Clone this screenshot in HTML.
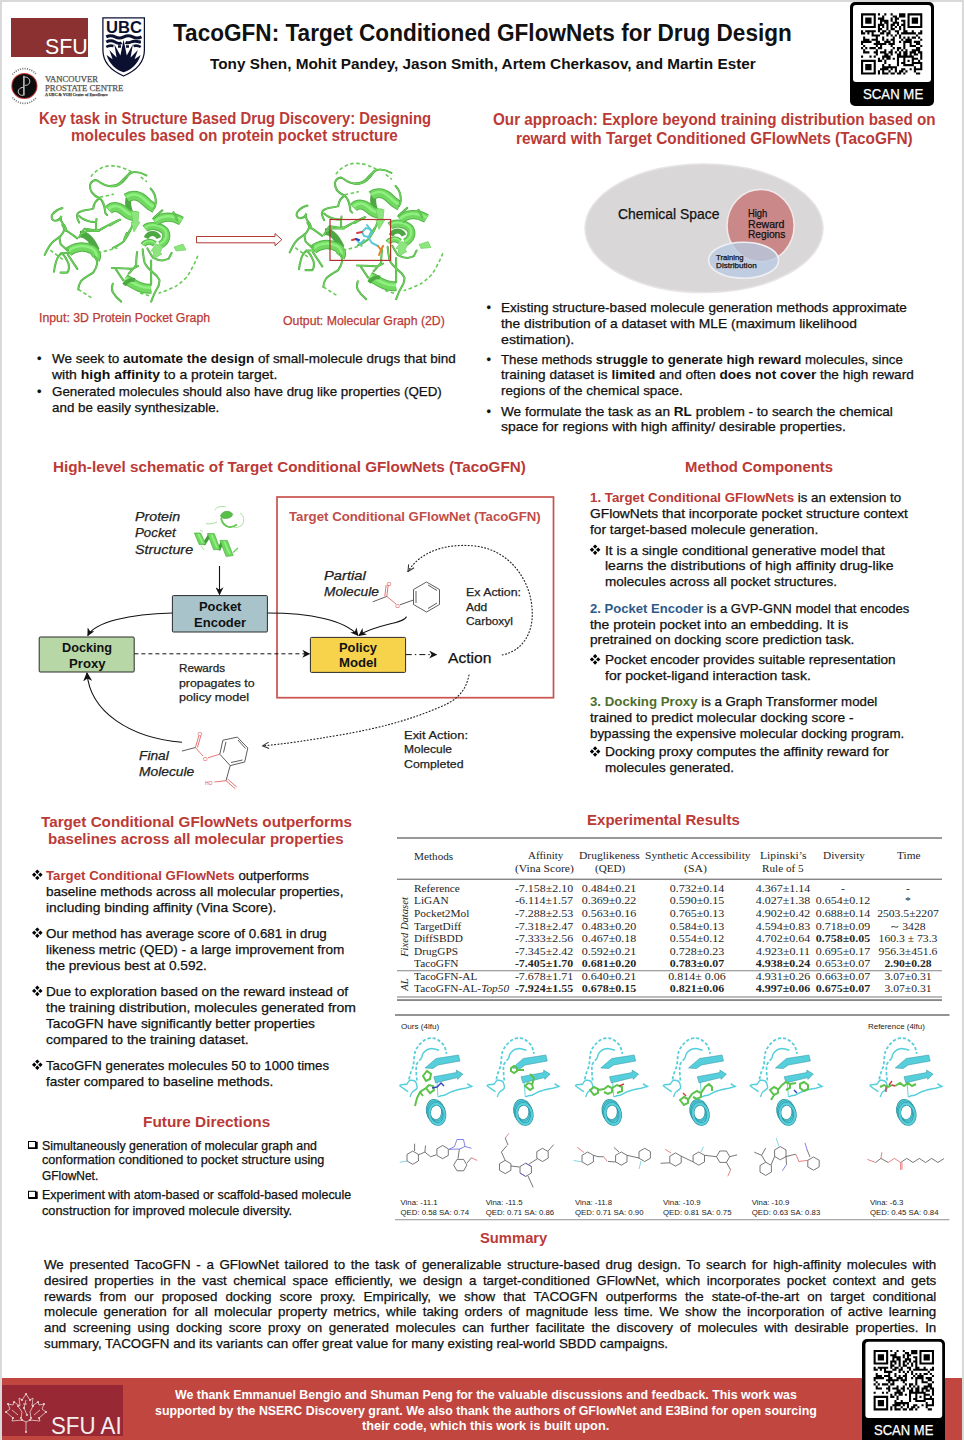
<!DOCTYPE html>
<html><head><meta charset="utf-8"><title>TacoGFN poster</title>
<style>
html,body{margin:0;padding:0;}
body{width:964px;height:1440px;position:relative;overflow:hidden;background:#fff;font-family:"Liberation Sans",sans-serif;color:#111;}
.L{position:absolute;white-space:nowrap;line-height:1;transform-origin:0 0;-webkit-text-stroke:0.25px currentColor;}
.L.j{text-align:justify;text-align-last:justify;white-space:normal;height:1em;overflow:visible;}
.r{color:#bb3a36;}
.L b{-webkit-text-stroke:0;}
.bl{color:#2e5a8a;}
.gr{color:#4c6e2c;}
.abs{position:absolute;}

</style></head><body>
<svg class="abs" style="left:0;top:0" width="964" height="1440" viewBox="0 0 964 1440">
<rect x="0" y="0" width="964" height="2" fill="#d9d9d9"/>
<rect x="0" y="0" width="2" height="1440" fill="#d9d9d9"/>
<rect x="962" y="0" width="2" height="1440" fill="#d9d9d9"/>
<rect x="2" y="1378" width="960" height="62" fill="#c0463f"/>
<rect x="2" y="1385" width="121" height="51" fill="#972834"/>
<rect x="11" y="18" width="77" height="39" fill="#8b3131"/>
<path d="M102.9,17.9 H144.4 V50 C144.4,63 134,71.5 123.6,76 C113.2,71.5 102.9,63 102.9,50 Z" fill="#fff" stroke="#0c1030" stroke-width="1.25"/>
<path d="M106.3,36.9 q4.4,-2.4 8.8,0 t8.8,0 t8.8,0 t8.8,0" fill="none" stroke="#0c1030" stroke-width="3"/>
<path d="M106.3,42 q4.4,-2.4 8.8,0 t6.4,0.6 M125.5,42.4 q2.4,1 5.6,-0.4 t8.8,0 l1,0" fill="none" stroke="#0c1030" stroke-width="3"/>
<path d="M106.3,47 q3,-2 7.2,-1 M118,46.5 l3,0 M126,46.5 l3,0 M133.5,46 q4,-1 7.2,1" fill="none" stroke="#0c1030" stroke-width="2.6"/>
<path d="M106.6,55 L112.6,59.3 L109.3,50 L116.6,57.5 L114.3,44.3 L120.4,55.6 L123.6,39.8 L126.8,55.6 L132.9,44.3 L130.6,57.5 L137.9,50 L134.6,59.3 L140.6,55 C138,64 131,70 123.6,72.3 C116.2,70 109.2,64 106.6,55 Z" fill="#0c1030"/>
<circle cx="24.4" cy="86" r="13.1" fill="#c43a3c"/>
<circle cx="24.4" cy="86" r="12.1" fill="#0d0d0d"/>
<path d="M23.9,75.8 V95.6" fill="none" stroke="#d8d8d8" stroke-width="1.4"/>
<path d="M24.3,77 C31.5,76.5 31.5,86 25,85.3" fill="none" stroke="#d8d8d8" stroke-width="0.9"/>
<path d="M23.5,87.5 C16.5,87 16.5,96.5 23.5,95.2" fill="none" stroke="#d8d8d8" stroke-width="0.9"/>
<path d="M12.5,74.5 A15,15 0 0 1 36.3,74.5" fill="none" stroke="#777" stroke-width="1.6" stroke-dasharray="1.1 1.2"/>
<path d="M12.5,97.5 A15,15 0 0 0 36.3,97.5" fill="none" stroke="#777" stroke-width="1.6" stroke-dasharray="1.1 1.2"/>
<rect x="850" y="2" width="84" height="104" rx="5" fill="#000"/>
<rect x="853" y="5" width="78" height="77" rx="3" fill="#fff"/>
<path d="M861.00,13.30h14.80v2.11h-14.80zM877.91,13.30h2.11v2.11h-2.11zM884.25,13.30h2.11v2.11h-2.11zM890.59,13.30h2.11v2.11h-2.11zM899.05,13.30h6.34v2.11h-6.34zM907.50,13.30h14.80v2.11h-14.80zM861.00,15.41h2.11v2.11h-2.11zM873.68,15.41h2.11v2.11h-2.11zM882.14,15.41h2.11v2.11h-2.11zM892.71,15.41h4.23v2.11h-4.23zM899.05,15.41h6.34v2.11h-6.34zM907.50,15.41h2.11v2.11h-2.11zM920.19,15.41h2.11v2.11h-2.11zM861.00,17.53h2.11v2.11h-2.11zM865.23,17.53h6.34v2.11h-6.34zM873.68,17.53h2.11v2.11h-2.11zM877.91,17.53h6.34v2.11h-6.34zM890.59,17.53h2.11v2.11h-2.11zM894.82,17.53h4.23v2.11h-4.23zM907.50,17.53h2.11v2.11h-2.11zM911.73,17.53h6.34v2.11h-6.34zM920.19,17.53h2.11v2.11h-2.11zM861.00,19.64h2.11v2.11h-2.11zM865.23,19.64h6.34v2.11h-6.34zM873.68,19.64h2.11v2.11h-2.11zM880.02,19.64h8.46v2.11h-8.46zM890.59,19.64h2.11v2.11h-2.11zM894.82,19.64h2.11v2.11h-2.11zM901.16,19.64h4.23v2.11h-4.23zM907.50,19.64h2.11v2.11h-2.11zM911.73,19.64h6.34v2.11h-6.34zM920.19,19.64h2.11v2.11h-2.11zM861.00,21.76h2.11v2.11h-2.11zM865.23,21.76h6.34v2.11h-6.34zM873.68,21.76h2.11v2.11h-2.11zM880.02,21.76h2.11v2.11h-2.11zM884.25,21.76h4.23v2.11h-4.23zM892.71,21.76h6.34v2.11h-6.34zM903.28,21.76h2.11v2.11h-2.11zM907.50,21.76h2.11v2.11h-2.11zM911.73,21.76h6.34v2.11h-6.34zM920.19,21.76h2.11v2.11h-2.11zM861.00,23.87h2.11v2.11h-2.11zM873.68,23.87h2.11v2.11h-2.11zM877.91,23.87h6.34v2.11h-6.34zM886.37,23.87h2.11v2.11h-2.11zM890.59,23.87h4.23v2.11h-4.23zM896.93,23.87h2.11v2.11h-2.11zM901.16,23.87h4.23v2.11h-4.23zM907.50,23.87h2.11v2.11h-2.11zM920.19,23.87h2.11v2.11h-2.11zM861.00,25.98h14.80v2.11h-14.80zM877.91,25.98h2.11v2.11h-2.11zM882.14,25.98h2.11v2.11h-2.11zM886.37,25.98h2.11v2.11h-2.11zM890.59,25.98h2.11v2.11h-2.11zM894.82,25.98h2.11v2.11h-2.11zM899.05,25.98h2.11v2.11h-2.11zM903.28,25.98h2.11v2.11h-2.11zM907.50,25.98h14.80v2.11h-14.80zM877.91,28.10h4.23v2.11h-4.23zM886.37,28.10h2.11v2.11h-2.11zM890.59,28.10h4.23v2.11h-4.23zM899.05,28.10h2.11v2.11h-2.11zM903.28,28.10h2.11v2.11h-2.11zM861.00,30.21h2.11v2.11h-2.11zM865.23,30.21h10.57v2.11h-10.57zM877.91,30.21h2.11v2.11h-2.11zM882.14,30.21h4.23v2.11h-4.23zM888.48,30.21h2.11v2.11h-2.11zM894.82,30.21h4.23v2.11h-4.23zM903.28,30.21h4.23v2.11h-4.23zM911.73,30.21h2.11v2.11h-2.11zM920.19,30.21h2.11v2.11h-2.11zM861.00,32.32h4.23v2.11h-4.23zM867.34,32.32h2.11v2.11h-2.11zM871.57,32.32h2.11v2.11h-2.11zM880.02,32.32h4.23v2.11h-4.23zM886.37,32.32h4.23v2.11h-4.23zM896.93,32.32h2.11v2.11h-2.11zM901.16,32.32h14.80v2.11h-14.80zM918.07,32.32h4.23v2.11h-4.23zM871.57,34.44h8.46v2.11h-8.46zM886.37,34.44h2.11v2.11h-2.11zM890.59,34.44h2.11v2.11h-2.11zM894.82,34.44h2.11v2.11h-2.11zM899.05,34.44h2.11v2.11h-2.11zM915.96,34.44h2.11v2.11h-2.11zM863.11,36.55h2.11v2.11h-2.11zM875.80,36.55h2.11v2.11h-2.11zM882.14,36.55h2.11v2.11h-2.11zM892.71,36.55h2.11v2.11h-2.11zM899.05,36.55h2.11v2.11h-2.11zM903.28,36.55h2.11v2.11h-2.11zM907.50,36.55h2.11v2.11h-2.11zM911.73,36.55h4.23v2.11h-4.23zM918.07,36.55h2.11v2.11h-2.11zM863.11,38.67h6.34v2.11h-6.34zM871.57,38.67h6.34v2.11h-6.34zM882.14,38.67h2.11v2.11h-2.11zM886.37,38.67h2.11v2.11h-2.11zM890.59,38.67h4.23v2.11h-4.23zM901.16,38.67h2.11v2.11h-2.11zM905.39,38.67h6.34v2.11h-6.34zM920.19,38.67h2.11v2.11h-2.11zM861.00,40.78h10.57v2.11h-10.57zM875.80,40.78h4.23v2.11h-4.23zM884.25,40.78h6.34v2.11h-6.34zM892.71,40.78h2.11v2.11h-2.11zM899.05,40.78h2.11v2.11h-2.11zM903.28,40.78h8.46v2.11h-8.46zM913.84,40.78h6.34v2.11h-6.34zM861.00,42.89h2.11v2.11h-2.11zM873.68,42.89h12.68v2.11h-12.68zM888.48,42.89h6.34v2.11h-6.34zM903.28,42.89h2.11v2.11h-2.11zM909.62,42.89h2.11v2.11h-2.11zM915.96,42.89h4.23v2.11h-4.23zM863.11,45.01h2.11v2.11h-2.11zM875.80,45.01h2.11v2.11h-2.11zM880.02,45.01h2.11v2.11h-2.11zM890.59,45.01h2.11v2.11h-2.11zM903.28,45.01h2.11v2.11h-2.11zM909.62,45.01h6.34v2.11h-6.34zM920.19,45.01h2.11v2.11h-2.11zM861.00,47.12h2.11v2.11h-2.11zM865.23,47.12h2.11v2.11h-2.11zM869.46,47.12h6.34v2.11h-6.34zM877.91,47.12h4.23v2.11h-4.23zM892.71,47.12h2.11v2.11h-2.11zM896.93,47.12h4.23v2.11h-4.23zM903.28,47.12h2.11v2.11h-2.11zM915.96,47.12h4.23v2.11h-4.23zM863.11,49.23h2.11v2.11h-2.11zM875.80,49.23h2.11v2.11h-2.11zM884.25,49.23h2.11v2.11h-2.11zM890.59,49.23h2.11v2.11h-2.11zM896.93,49.23h2.11v2.11h-2.11zM901.16,49.23h2.11v2.11h-2.11zM905.39,49.23h2.11v2.11h-2.11zM911.73,49.23h8.46v2.11h-8.46zM863.11,51.35h6.34v2.11h-6.34zM873.68,51.35h4.23v2.11h-4.23zM880.02,51.35h6.34v2.11h-6.34zM888.48,51.35h4.23v2.11h-4.23zM894.82,51.35h2.11v2.11h-2.11zM899.05,51.35h2.11v2.11h-2.11zM903.28,51.35h4.23v2.11h-4.23zM909.62,51.35h6.34v2.11h-6.34zM918.07,51.35h4.23v2.11h-4.23zM875.80,53.46h2.11v2.11h-2.11zM884.25,53.46h4.23v2.11h-4.23zM890.59,53.46h2.11v2.11h-2.11zM896.93,53.46h4.23v2.11h-4.23zM903.28,53.46h4.23v2.11h-4.23zM909.62,53.46h2.11v2.11h-2.11zM913.84,53.46h4.23v2.11h-4.23zM920.19,53.46h2.11v2.11h-2.11zM861.00,55.58h2.11v2.11h-2.11zM869.46,55.58h2.11v2.11h-2.11zM873.68,55.58h2.11v2.11h-2.11zM882.14,55.58h8.46v2.11h-8.46zM896.93,55.58h16.91v2.11h-16.91zM920.19,55.58h2.11v2.11h-2.11zM877.91,57.69h2.11v2.11h-2.11zM882.14,57.69h2.11v2.11h-2.11zM886.37,57.69h4.23v2.11h-4.23zM892.71,57.69h2.11v2.11h-2.11zM896.93,57.69h2.11v2.11h-2.11zM903.28,57.69h2.11v2.11h-2.11zM911.73,57.69h6.34v2.11h-6.34zM920.19,57.69h2.11v2.11h-2.11zM861.00,59.80h14.80v2.11h-14.80zM877.91,59.80h4.23v2.11h-4.23zM884.25,59.80h2.11v2.11h-2.11zM896.93,59.80h2.11v2.11h-2.11zM903.28,59.80h2.11v2.11h-2.11zM907.50,59.80h2.11v2.11h-2.11zM911.73,59.80h2.11v2.11h-2.11zM918.07,59.80h2.11v2.11h-2.11zM861.00,61.92h2.11v2.11h-2.11zM873.68,61.92h2.11v2.11h-2.11zM884.25,61.92h2.11v2.11h-2.11zM896.93,61.92h2.11v2.11h-2.11zM901.16,61.92h4.23v2.11h-4.23zM911.73,61.92h10.57v2.11h-10.57zM861.00,64.03h2.11v2.11h-2.11zM865.23,64.03h6.34v2.11h-6.34zM873.68,64.03h2.11v2.11h-2.11zM882.14,64.03h2.11v2.11h-2.11zM888.48,64.03h2.11v2.11h-2.11zM896.93,64.03h2.11v2.11h-2.11zM903.28,64.03h10.57v2.11h-10.57zM920.19,64.03h2.11v2.11h-2.11zM861.00,66.14h2.11v2.11h-2.11zM865.23,66.14h6.34v2.11h-6.34zM873.68,66.14h2.11v2.11h-2.11zM882.14,66.14h14.80v2.11h-14.80zM913.84,66.14h2.11v2.11h-2.11zM920.19,66.14h2.11v2.11h-2.11zM861.00,68.26h2.11v2.11h-2.11zM865.23,68.26h6.34v2.11h-6.34zM873.68,68.26h2.11v2.11h-2.11zM880.02,68.26h8.46v2.11h-8.46zM890.59,68.26h2.11v2.11h-2.11zM894.82,68.26h2.11v2.11h-2.11zM901.16,68.26h4.23v2.11h-4.23zM909.62,68.26h2.11v2.11h-2.11zM913.84,68.26h8.46v2.11h-8.46zM861.00,70.37h2.11v2.11h-2.11zM873.68,70.37h2.11v2.11h-2.11zM877.91,70.37h2.11v2.11h-2.11zM882.14,70.37h2.11v2.11h-2.11zM888.48,70.37h2.11v2.11h-2.11zM894.82,70.37h2.11v2.11h-2.11zM899.05,70.37h4.23v2.11h-4.23zM905.39,70.37h2.11v2.11h-2.11zM913.84,70.37h2.11v2.11h-2.11zM861.00,72.49h14.80v2.11h-14.80zM877.91,72.49h2.11v2.11h-2.11zM882.14,72.49h6.34v2.11h-6.34zM890.59,72.49h4.23v2.11h-4.23zM896.93,72.49h4.23v2.11h-4.23zM903.28,72.49h2.11v2.11h-2.11zM915.96,72.49h4.23v2.11h-4.23z" fill="#000"/>
<rect x="862" y="1339" width="83" height="110" rx="5" fill="#000"/>
<rect x="865.4" y="1341.8" width="76.8" height="76.2" rx="3" fill="#fff"/>
<path d="M873.60,1350.00h14.58v2.08h-14.58zM890.26,1350.00h2.08v2.08h-2.08zM896.51,1350.00h2.08v2.08h-2.08zM902.76,1350.00h2.08v2.08h-2.08zM911.09,1350.00h6.25v2.08h-6.25zM919.42,1350.00h14.58v2.08h-14.58zM873.60,1352.08h2.08v2.08h-2.08zM886.10,1352.08h2.08v2.08h-2.08zM894.43,1352.08h2.08v2.08h-2.08zM904.84,1352.08h4.17v2.08h-4.17zM911.09,1352.08h6.25v2.08h-6.25zM919.42,1352.08h2.08v2.08h-2.08zM931.92,1352.08h2.08v2.08h-2.08zM873.60,1354.17h2.08v2.08h-2.08zM877.77,1354.17h6.25v2.08h-6.25zM886.10,1354.17h2.08v2.08h-2.08zM890.26,1354.17h6.25v2.08h-6.25zM902.76,1354.17h2.08v2.08h-2.08zM906.92,1354.17h4.17v2.08h-4.17zM919.42,1354.17h2.08v2.08h-2.08zM923.59,1354.17h6.25v2.08h-6.25zM931.92,1354.17h2.08v2.08h-2.08zM873.60,1356.25h2.08v2.08h-2.08zM877.77,1356.25h6.25v2.08h-6.25zM886.10,1356.25h2.08v2.08h-2.08zM892.34,1356.25h8.33v2.08h-8.33zM902.76,1356.25h2.08v2.08h-2.08zM906.92,1356.25h2.08v2.08h-2.08zM913.17,1356.25h4.17v2.08h-4.17zM919.42,1356.25h2.08v2.08h-2.08zM923.59,1356.25h6.25v2.08h-6.25zM931.92,1356.25h2.08v2.08h-2.08zM873.60,1358.33h2.08v2.08h-2.08zM877.77,1358.33h6.25v2.08h-6.25zM886.10,1358.33h2.08v2.08h-2.08zM892.34,1358.33h2.08v2.08h-2.08zM896.51,1358.33h4.17v2.08h-4.17zM904.84,1358.33h6.25v2.08h-6.25zM915.26,1358.33h2.08v2.08h-2.08zM919.42,1358.33h2.08v2.08h-2.08zM923.59,1358.33h6.25v2.08h-6.25zM931.92,1358.33h2.08v2.08h-2.08zM873.60,1360.41h2.08v2.08h-2.08zM886.10,1360.41h2.08v2.08h-2.08zM890.26,1360.41h6.25v2.08h-6.25zM898.59,1360.41h2.08v2.08h-2.08zM902.76,1360.41h4.17v2.08h-4.17zM909.01,1360.41h2.08v2.08h-2.08zM913.17,1360.41h4.17v2.08h-4.17zM919.42,1360.41h2.08v2.08h-2.08zM931.92,1360.41h2.08v2.08h-2.08zM873.60,1362.50h14.58v2.08h-14.58zM890.26,1362.50h2.08v2.08h-2.08zM894.43,1362.50h2.08v2.08h-2.08zM898.59,1362.50h2.08v2.08h-2.08zM902.76,1362.50h2.08v2.08h-2.08zM906.92,1362.50h2.08v2.08h-2.08zM911.09,1362.50h2.08v2.08h-2.08zM915.26,1362.50h2.08v2.08h-2.08zM919.42,1362.50h14.58v2.08h-14.58zM890.26,1364.58h4.17v2.08h-4.17zM898.59,1364.58h2.08v2.08h-2.08zM902.76,1364.58h4.17v2.08h-4.17zM911.09,1364.58h2.08v2.08h-2.08zM915.26,1364.58h2.08v2.08h-2.08zM873.60,1366.66h2.08v2.08h-2.08zM877.77,1366.66h10.41v2.08h-10.41zM890.26,1366.66h2.08v2.08h-2.08zM894.43,1366.66h4.17v2.08h-4.17zM900.68,1366.66h2.08v2.08h-2.08zM906.92,1366.66h4.17v2.08h-4.17zM915.26,1366.66h4.17v2.08h-4.17zM923.59,1366.66h2.08v2.08h-2.08zM931.92,1366.66h2.08v2.08h-2.08zM873.60,1368.74h4.17v2.08h-4.17zM879.85,1368.74h2.08v2.08h-2.08zM884.01,1368.74h2.08v2.08h-2.08zM892.34,1368.74h4.17v2.08h-4.17zM898.59,1368.74h4.17v2.08h-4.17zM909.01,1368.74h2.08v2.08h-2.08zM913.17,1368.74h14.58v2.08h-14.58zM929.83,1368.74h4.17v2.08h-4.17zM884.01,1370.83h8.33v2.08h-8.33zM898.59,1370.83h2.08v2.08h-2.08zM902.76,1370.83h2.08v2.08h-2.08zM906.92,1370.83h2.08v2.08h-2.08zM911.09,1370.83h2.08v2.08h-2.08zM927.75,1370.83h2.08v2.08h-2.08zM875.68,1372.91h2.08v2.08h-2.08zM888.18,1372.91h2.08v2.08h-2.08zM894.43,1372.91h2.08v2.08h-2.08zM904.84,1372.91h2.08v2.08h-2.08zM911.09,1372.91h2.08v2.08h-2.08zM915.26,1372.91h2.08v2.08h-2.08zM919.42,1372.91h2.08v2.08h-2.08zM923.59,1372.91h4.17v2.08h-4.17zM929.83,1372.91h2.08v2.08h-2.08zM875.68,1374.99h6.25v2.08h-6.25zM884.01,1374.99h6.25v2.08h-6.25zM894.43,1374.99h2.08v2.08h-2.08zM898.59,1374.99h2.08v2.08h-2.08zM902.76,1374.99h4.17v2.08h-4.17zM913.17,1374.99h2.08v2.08h-2.08zM917.34,1374.99h6.25v2.08h-6.25zM931.92,1374.99h2.08v2.08h-2.08zM873.60,1377.08h10.41v2.08h-10.41zM888.18,1377.08h4.17v2.08h-4.17zM896.51,1377.08h6.25v2.08h-6.25zM904.84,1377.08h2.08v2.08h-2.08zM911.09,1377.08h2.08v2.08h-2.08zM915.26,1377.08h8.33v2.08h-8.33zM925.67,1377.08h6.25v2.08h-6.25zM873.60,1379.16h2.08v2.08h-2.08zM886.10,1379.16h12.50v2.08h-12.50zM900.68,1379.16h6.25v2.08h-6.25zM915.26,1379.16h2.08v2.08h-2.08zM921.50,1379.16h2.08v2.08h-2.08zM927.75,1379.16h4.17v2.08h-4.17zM875.68,1381.24h2.08v2.08h-2.08zM888.18,1381.24h2.08v2.08h-2.08zM892.34,1381.24h2.08v2.08h-2.08zM902.76,1381.24h2.08v2.08h-2.08zM915.26,1381.24h2.08v2.08h-2.08zM921.50,1381.24h6.25v2.08h-6.25zM931.92,1381.24h2.08v2.08h-2.08zM873.60,1383.32h2.08v2.08h-2.08zM877.77,1383.32h2.08v2.08h-2.08zM881.93,1383.32h6.25v2.08h-6.25zM890.26,1383.32h4.17v2.08h-4.17zM904.84,1383.32h2.08v2.08h-2.08zM909.01,1383.32h4.17v2.08h-4.17zM915.26,1383.32h2.08v2.08h-2.08zM927.75,1383.32h4.17v2.08h-4.17zM875.68,1385.41h2.08v2.08h-2.08zM888.18,1385.41h2.08v2.08h-2.08zM896.51,1385.41h2.08v2.08h-2.08zM902.76,1385.41h2.08v2.08h-2.08zM909.01,1385.41h2.08v2.08h-2.08zM913.17,1385.41h2.08v2.08h-2.08zM917.34,1385.41h2.08v2.08h-2.08zM923.59,1385.41h8.33v2.08h-8.33zM875.68,1387.49h6.25v2.08h-6.25zM886.10,1387.49h4.17v2.08h-4.17zM892.34,1387.49h6.25v2.08h-6.25zM900.68,1387.49h4.17v2.08h-4.17zM906.92,1387.49h2.08v2.08h-2.08zM911.09,1387.49h2.08v2.08h-2.08zM915.26,1387.49h4.17v2.08h-4.17zM921.50,1387.49h6.25v2.08h-6.25zM929.83,1387.49h4.17v2.08h-4.17zM888.18,1389.57h2.08v2.08h-2.08zM896.51,1389.57h4.17v2.08h-4.17zM902.76,1389.57h2.08v2.08h-2.08zM909.01,1389.57h4.17v2.08h-4.17zM915.26,1389.57h4.17v2.08h-4.17zM921.50,1389.57h2.08v2.08h-2.08zM925.67,1389.57h4.17v2.08h-4.17zM931.92,1389.57h2.08v2.08h-2.08zM873.60,1391.66h2.08v2.08h-2.08zM881.93,1391.66h2.08v2.08h-2.08zM886.10,1391.66h2.08v2.08h-2.08zM894.43,1391.66h8.33v2.08h-8.33zM909.01,1391.66h16.66v2.08h-16.66zM931.92,1391.66h2.08v2.08h-2.08zM890.26,1393.74h2.08v2.08h-2.08zM894.43,1393.74h2.08v2.08h-2.08zM898.59,1393.74h4.17v2.08h-4.17zM904.84,1393.74h2.08v2.08h-2.08zM909.01,1393.74h2.08v2.08h-2.08zM915.26,1393.74h2.08v2.08h-2.08zM923.59,1393.74h6.25v2.08h-6.25zM931.92,1393.74h2.08v2.08h-2.08zM873.60,1395.82h14.58v2.08h-14.58zM890.26,1395.82h4.17v2.08h-4.17zM896.51,1395.82h2.08v2.08h-2.08zM909.01,1395.82h2.08v2.08h-2.08zM915.26,1395.82h2.08v2.08h-2.08zM919.42,1395.82h2.08v2.08h-2.08zM923.59,1395.82h2.08v2.08h-2.08zM929.83,1395.82h2.08v2.08h-2.08zM873.60,1397.90h2.08v2.08h-2.08zM886.10,1397.90h2.08v2.08h-2.08zM896.51,1397.90h2.08v2.08h-2.08zM909.01,1397.90h2.08v2.08h-2.08zM913.17,1397.90h4.17v2.08h-4.17zM923.59,1397.90h10.41v2.08h-10.41zM873.60,1399.99h2.08v2.08h-2.08zM877.77,1399.99h6.25v2.08h-6.25zM886.10,1399.99h2.08v2.08h-2.08zM894.43,1399.99h2.08v2.08h-2.08zM900.68,1399.99h2.08v2.08h-2.08zM909.01,1399.99h2.08v2.08h-2.08zM915.26,1399.99h10.41v2.08h-10.41zM931.92,1399.99h2.08v2.08h-2.08zM873.60,1402.07h2.08v2.08h-2.08zM877.77,1402.07h6.25v2.08h-6.25zM886.10,1402.07h2.08v2.08h-2.08zM894.43,1402.07h14.58v2.08h-14.58zM925.67,1402.07h2.08v2.08h-2.08zM931.92,1402.07h2.08v2.08h-2.08zM873.60,1404.15h2.08v2.08h-2.08zM877.77,1404.15h6.25v2.08h-6.25zM886.10,1404.15h2.08v2.08h-2.08zM892.34,1404.15h8.33v2.08h-8.33zM902.76,1404.15h2.08v2.08h-2.08zM906.92,1404.15h2.08v2.08h-2.08zM913.17,1404.15h4.17v2.08h-4.17zM921.50,1404.15h2.08v2.08h-2.08zM925.67,1404.15h8.33v2.08h-8.33zM873.60,1406.23h2.08v2.08h-2.08zM886.10,1406.23h2.08v2.08h-2.08zM890.26,1406.23h2.08v2.08h-2.08zM894.43,1406.23h2.08v2.08h-2.08zM900.68,1406.23h2.08v2.08h-2.08zM906.92,1406.23h2.08v2.08h-2.08zM911.09,1406.23h4.17v2.08h-4.17zM917.34,1406.23h2.08v2.08h-2.08zM925.67,1406.23h2.08v2.08h-2.08zM873.60,1408.32h14.58v2.08h-14.58zM890.26,1408.32h2.08v2.08h-2.08zM894.43,1408.32h6.25v2.08h-6.25zM902.76,1408.32h4.17v2.08h-4.17zM909.01,1408.32h4.17v2.08h-4.17zM915.26,1408.32h2.08v2.08h-2.08zM927.75,1408.32h4.17v2.08h-4.17z" fill="#000"/>
<g id="prot1"><path d="M128.5,198 C127.5,204 128.5,210 131.5,215" fill="none" stroke="#4da843" stroke-width="6" stroke-linecap="butt"/>
<path d="M108.5,210 C113,205.5 119,206.5 124,211 C127,214 130,216 134,216" fill="none" stroke="#52b546" stroke-width="10" stroke-linecap="butt"/>
<path d="M108.5,210 C113,205.5 119,206.5 124,211 C127,214 130,216 134,216" fill="none" stroke="#72d862" stroke-width="8" stroke-linecap="butt"/>
<path d="M108.5,210 C113,205.5 119,206.5 124,211 C127,214 130,216 134,216" fill="none" stroke="#8ef07e" stroke-width="2.70" stroke-linecap="butt" transform="translate(0,-1)"/>
<path d="M126.5,198 C133,193.5 140,196 145,201 C149,205 152,207 154.5,208" fill="none" stroke="#52b546" stroke-width="10" stroke-linecap="butt"/>
<path d="M126.5,198 C133,193.5 140,196 145,201 C149,205 152,207 154.5,208" fill="none" stroke="#72d862" stroke-width="8" stroke-linecap="butt"/>
<path d="M126.5,198 C133,193.5 140,196 145,201 C149,205 152,207 154.5,208" fill="none" stroke="#8ef07e" stroke-width="2.70" stroke-linecap="butt" transform="translate(0,-1)"/>
<path d="M80,234 C86,234 92,240 96.5,250" fill="none" stroke="#4da843" stroke-width="6.5" stroke-linecap="butt"/>
<path d="M68,252.5 C74,246.5 84,245.5 92,249.5 C96,252 97.5,256 95.5,259" fill="none" stroke="#52b546" stroke-width="9.5" stroke-linecap="butt"/>
<path d="M68,252.5 C74,246.5 84,245.5 92,249.5 C96,252 97.5,256 95.5,259" fill="none" stroke="#72d862" stroke-width="7.5" stroke-linecap="butt"/>
<path d="M68,252.5 C74,246.5 84,245.5 92,249.5 C96,252 97.5,256 95.5,259" fill="none" stroke="#8ef07e" stroke-width="2.55" stroke-linecap="butt" transform="translate(0,-1)"/>
<path d="M146,238 C149,232 156,232 159,238" fill="none" stroke="#4da843" stroke-width="5" stroke-linecap="butt"/>
<path d="M145,228.5 C150,224.5 160,225.5 165,231 C168,236 166,242 160,245" fill="none" stroke="#52b546" stroke-width="8" stroke-linecap="butt"/>
<path d="M145,228.5 C150,224.5 160,225.5 165,231 C168,236 166,242 160,245" fill="none" stroke="#72d862" stroke-width="6" stroke-linecap="butt"/>
<path d="M145,228.5 C150,224.5 160,225.5 165,231 C168,236 166,242 160,245" fill="none" stroke="#8ef07e" stroke-width="2.10" stroke-linecap="butt" transform="translate(0,-1)"/>
<path d="M143,245 C146,241 151,241 155,244" fill="none" stroke="#52b546" stroke-width="6" stroke-linecap="butt"/>
<path d="M143,245 C146,241 151,241 155,244" fill="none" stroke="#72d862" stroke-width="4" stroke-linecap="butt"/>
<path d="M143,245 C146,241 151,241 155,244" fill="none" stroke="#8ef07e" stroke-width="1.50" stroke-linecap="butt" transform="translate(0,-1)"/>
<path d="M155,222 C162,216 172,215.5 181.5,221" fill="none" stroke="#52b546" stroke-width="9.5" stroke-linecap="butt"/>
<path d="M155,222 C162,216 172,215.5 181.5,221" fill="none" stroke="#72d862" stroke-width="7.5" stroke-linecap="butt"/>
<path d="M155,222 C162,216 172,215.5 181.5,221" fill="none" stroke="#8ef07e" stroke-width="2.55" stroke-linecap="butt" transform="translate(0,-1)"/>
<path d="M125,279 C132,282.5 140,290 151,288.5" fill="none" stroke="#52b546" stroke-width="10" stroke-linecap="butt"/>
<path d="M125,279 C132,282.5 140,290 151,288.5" fill="none" stroke="#72d862" stroke-width="8" stroke-linecap="butt"/>
<path d="M125,279 C132,282.5 140,290 151,288.5" fill="none" stroke="#8ef07e" stroke-width="2.70" stroke-linecap="butt" transform="translate(0,-1)"/>
<path d="M124,285 C127,281 131,279 135,280" fill="none" stroke="#4da843" stroke-width="4" stroke-linecap="butt"/>
<path d="M129.6,173.1 C126,179 121,185 114.7,186.1 C108,187 101.6,183.8 98,181 C95,179 91,181 90,185 C89.5,190 92,195 99.8,198.3 C103,201 104.4,204 105.4,213.2 L107.2,215.1" fill="none" stroke="#4fae42" stroke-width="2.1" stroke-linecap="round"/>
<path d="M110,186.1 C115,186 119,185 122,181 C126,176 130,172 135,172 C140,172 144,174 146.4,175.4" fill="none" stroke="#4fae42" stroke-width="2.1" stroke-linecap="round"/>
<path d="M150.6,188.5 C154,192 156,198 155.8,203 C155.5,206 154.5,208 153.9,208.6" fill="none" stroke="#4fae42" stroke-width="2.1" stroke-linecap="round"/>
<path d="M99.8,198.3 C96,200 94,203 93.2,208.6 C90,210 85,210 82,210.9 C78,212 76,214 77.3,218 C78,221 79,222 79.2,222.6" fill="none" stroke="#4fae42" stroke-width="2.1" stroke-linecap="round"/>
<path d="M79.2,216 C82,219 86.7,220.7 90,221.5 C94,222.3 97,222.6 96.5,219" fill="none" stroke="#4fae42" stroke-width="2.1" stroke-linecap="round"/>
<path d="M96,221.6 L96,229.1 L99.8,231 C95,231 90,231 86.7,231 L82,233.8" fill="none" stroke="#4fae42" stroke-width="2.1" stroke-linecap="round"/>
<path d="M120.3,219.8 C116,221 111,223.5 99.8,230" fill="none" stroke="#4fae42" stroke-width="2.1" stroke-linecap="round"/>
<path d="M62.4,208.1 C58,209 54,212.3 52,215 C51,218 52,220.5 54.9,220.7 C58,220.8 60,219.8 61.5,216 C60,219 61,222 64.3,225.4 C65.5,227 66,229 66.1,231" fill="none" stroke="#4fae42" stroke-width="2.1" stroke-linecap="round"/>
<path d="M64.3,229.1 C67,231 71.7,233.8 77.3,238.4" fill="none" stroke="#4fae42" stroke-width="2.1" stroke-linecap="round"/>
<path d="M44.7,254.9 C47,250 49,246 51.2,243.7 C54,240 58,238 60.5,236.2 C63,233 64.3,230 64.3,228.7 L62.4,225" fill="none" stroke="#4fae42" stroke-width="2.1" stroke-linecap="round"/>
<path d="M59.6,237.1 C59.5,240 60,242 60.5,243.7 C62,246 65,248 68,250.2" fill="none" stroke="#4fae42" stroke-width="2.1" stroke-linecap="round"/>
<path d="M54,271.7 C54.5,268 55,265 55.9,262.3 C57,258 60,254 62.4,253 L69,253" fill="none" stroke="#4fae42" stroke-width="2.1" stroke-linecap="round"/>
<path d="M61.5,253 C64,255 66,258 67.1,260.5 C68.5,263 69,265 69,267 C68.8,270 68,272 67.1,272.6 L60.5,272.6" fill="none" stroke="#4fae42" stroke-width="2.1" stroke-linecap="round"/>
<path d="M68,254.9 L77.3,268.9" fill="none" stroke="#4fae42" stroke-width="2.1" stroke-linecap="round"/>
<path d="M95.1,256.7 C96.5,259 97.5,262 97,264.2 C96.5,268 95,270 93.2,272.6 C88,276 84,278 81.1,281 C79,284 78.3,287 78.3,289.4" fill="none" stroke="#4fae42" stroke-width="2.1" stroke-linecap="round"/>
<path d="M112.8,247.9 C117,246 121,244 124,240.9 C127,237 129,233 129.6,230.6" fill="none" stroke="#4fae42" stroke-width="2.1" stroke-linecap="round"/>
<path d="M79.2,237.1 C81,234 83,230 84.8,228.7 C89,229 93,230.5 97.9,230.6 C100,230 103,228 105.4,226.9" fill="none" stroke="#4fae42" stroke-width="2.1" stroke-linecap="round"/>
<path d="M119.3,219.8 L110,225.4" fill="none" stroke="#4fae42" stroke-width="2.1" stroke-linecap="round"/>
<path d="M126.8,232.8 L124,240" fill="none" stroke="#4fae42" stroke-width="2.1" stroke-linecap="round"/>
<path d="M162.3,210.4 L153.9,217.9" fill="none" stroke="#4fae42" stroke-width="2.1" stroke-linecap="round"/>
<path d="M173.5,212.3 L177.2,219.8" fill="none" stroke="#4fae42" stroke-width="2.1" stroke-linecap="round"/>
<path d="M111.9,268 C118,268 126,268.5 132.4,268.9 L138,266.1" fill="none" stroke="#4fae42" stroke-width="2.1" stroke-linecap="round"/>
<path d="M115.6,268.9 L123.1,280.1" fill="none" stroke="#4fae42" stroke-width="2.1" stroke-linecap="round"/>
<path d="M112.8,283.8 C111.5,287 111.8,290 112.8,292.2 C115,296 118,299 121.2,301.6" fill="none" stroke="#4fae42" stroke-width="2.1" stroke-linecap="round"/>
<path d="M137.1,252.1 C136.5,256 136.2,261 136.1,265.1 C134,268 131,271 128.7,273.6" fill="none" stroke="#4fae42" stroke-width="2.1" stroke-linecap="round"/>
<path d="M142.7,249.3 C143,253 143.5,258 144.5,262.3 C146,266 149,269 152,271.7 C155,274 158,277 159.5,280.1 C159.5,282 159,284 158.6,285.7 C156,290 153,296 151.1,301.6" fill="none" stroke="#4fae42" stroke-width="2.1" stroke-linecap="round"/>
<path d="M151.1,260.5 L151.1,284.8" fill="none" stroke="#4fae42" stroke-width="2.1" stroke-linecap="round"/>
<path d="M147.3,248.3 C149,251 151,255 153,257.7 C156,259.5 159,260.5 162.3,260.5 C165,260 167,259.5 168.8,258.6 C170,256 171,254 171.6,253" fill="none" stroke="#4fae42" stroke-width="2.1" stroke-linecap="round"/>
<path d="M136,212 C134,222 130,232 126.8,236" fill="none" stroke="#4fae42" stroke-width="2.1" stroke-linecap="round"/>
<path d="M129.6,173.1 C126,179 121,185 114.7,186.1 C108,187 101.6,183.8 98,181 C95,179 91,181 90,185 C89.5,190 92,195 99.8,198.3 C103,201 104.4,204 105.4,213.2 L107.2,215.1" fill="none" stroke="#72d862" stroke-width="1.0" stroke-linecap="round"/>
<path d="M110,186.1 C115,186 119,185 122,181 C126,176 130,172 135,172 C140,172 144,174 146.4,175.4" fill="none" stroke="#72d862" stroke-width="1.0" stroke-linecap="round"/>
<path d="M150.6,188.5 C154,192 156,198 155.8,203 C155.5,206 154.5,208 153.9,208.6" fill="none" stroke="#72d862" stroke-width="1.0" stroke-linecap="round"/>
<path d="M99.8,198.3 C96,200 94,203 93.2,208.6 C90,210 85,210 82,210.9 C78,212 76,214 77.3,218 C78,221 79,222 79.2,222.6" fill="none" stroke="#72d862" stroke-width="1.0" stroke-linecap="round"/>
<path d="M79.2,216 C82,219 86.7,220.7 90,221.5 C94,222.3 97,222.6 96.5,219" fill="none" stroke="#72d862" stroke-width="1.0" stroke-linecap="round"/>
<path d="M96,221.6 L96,229.1 L99.8,231 C95,231 90,231 86.7,231 L82,233.8" fill="none" stroke="#72d862" stroke-width="1.0" stroke-linecap="round"/>
<path d="M120.3,219.8 C116,221 111,223.5 99.8,230" fill="none" stroke="#72d862" stroke-width="1.0" stroke-linecap="round"/>
<path d="M62.4,208.1 C58,209 54,212.3 52,215 C51,218 52,220.5 54.9,220.7 C58,220.8 60,219.8 61.5,216 C60,219 61,222 64.3,225.4 C65.5,227 66,229 66.1,231" fill="none" stroke="#72d862" stroke-width="1.0" stroke-linecap="round"/>
<path d="M64.3,229.1 C67,231 71.7,233.8 77.3,238.4" fill="none" stroke="#72d862" stroke-width="1.0" stroke-linecap="round"/>
<path d="M44.7,254.9 C47,250 49,246 51.2,243.7 C54,240 58,238 60.5,236.2 C63,233 64.3,230 64.3,228.7 L62.4,225" fill="none" stroke="#72d862" stroke-width="1.0" stroke-linecap="round"/>
<path d="M59.6,237.1 C59.5,240 60,242 60.5,243.7 C62,246 65,248 68,250.2" fill="none" stroke="#72d862" stroke-width="1.0" stroke-linecap="round"/>
<path d="M54,271.7 C54.5,268 55,265 55.9,262.3 C57,258 60,254 62.4,253 L69,253" fill="none" stroke="#72d862" stroke-width="1.0" stroke-linecap="round"/>
<path d="M61.5,253 C64,255 66,258 67.1,260.5 C68.5,263 69,265 69,267 C68.8,270 68,272 67.1,272.6 L60.5,272.6" fill="none" stroke="#72d862" stroke-width="1.0" stroke-linecap="round"/>
<path d="M68,254.9 L77.3,268.9" fill="none" stroke="#72d862" stroke-width="1.0" stroke-linecap="round"/>
<path d="M95.1,256.7 C96.5,259 97.5,262 97,264.2 C96.5,268 95,270 93.2,272.6 C88,276 84,278 81.1,281 C79,284 78.3,287 78.3,289.4" fill="none" stroke="#72d862" stroke-width="1.0" stroke-linecap="round"/>
<path d="M112.8,247.9 C117,246 121,244 124,240.9 C127,237 129,233 129.6,230.6" fill="none" stroke="#72d862" stroke-width="1.0" stroke-linecap="round"/>
<path d="M79.2,237.1 C81,234 83,230 84.8,228.7 C89,229 93,230.5 97.9,230.6 C100,230 103,228 105.4,226.9" fill="none" stroke="#72d862" stroke-width="1.0" stroke-linecap="round"/>
<path d="M119.3,219.8 L110,225.4" fill="none" stroke="#72d862" stroke-width="1.0" stroke-linecap="round"/>
<path d="M126.8,232.8 L124,240" fill="none" stroke="#72d862" stroke-width="1.0" stroke-linecap="round"/>
<path d="M162.3,210.4 L153.9,217.9" fill="none" stroke="#72d862" stroke-width="1.0" stroke-linecap="round"/>
<path d="M173.5,212.3 L177.2,219.8" fill="none" stroke="#72d862" stroke-width="1.0" stroke-linecap="round"/>
<path d="M111.9,268 C118,268 126,268.5 132.4,268.9 L138,266.1" fill="none" stroke="#72d862" stroke-width="1.0" stroke-linecap="round"/>
<path d="M115.6,268.9 L123.1,280.1" fill="none" stroke="#72d862" stroke-width="1.0" stroke-linecap="round"/>
<path d="M112.8,283.8 C111.5,287 111.8,290 112.8,292.2 C115,296 118,299 121.2,301.6" fill="none" stroke="#72d862" stroke-width="1.0" stroke-linecap="round"/>
<path d="M137.1,252.1 C136.5,256 136.2,261 136.1,265.1 C134,268 131,271 128.7,273.6" fill="none" stroke="#72d862" stroke-width="1.0" stroke-linecap="round"/>
<path d="M142.7,249.3 C143,253 143.5,258 144.5,262.3 C146,266 149,269 152,271.7 C155,274 158,277 159.5,280.1 C159.5,282 159,284 158.6,285.7 C156,290 153,296 151.1,301.6" fill="none" stroke="#72d862" stroke-width="1.0" stroke-linecap="round"/>
<path d="M151.1,260.5 L151.1,284.8" fill="none" stroke="#72d862" stroke-width="1.0" stroke-linecap="round"/>
<path d="M147.3,248.3 C149,251 151,255 153,257.7 C156,259.5 159,260.5 162.3,260.5 C165,260 167,259.5 168.8,258.6 C170,256 171,254 171.6,253" fill="none" stroke="#72d862" stroke-width="1.0" stroke-linecap="round"/>
<path d="M136,212 C134,222 130,232 126.8,236" fill="none" stroke="#72d862" stroke-width="1.0" stroke-linecap="round"/>
<path d="M90.9,176.8 C94,172 100,167.5 107.2,166.1 C112,165.6 116.6,166 122,167.5 C126,169 129,170.5 131.9,172.1" fill="none" stroke="#66cc55" stroke-width="1.6" stroke-dasharray="3.5 2.5"/>
<path d="M140.8,176.8 L146.9,181.9" fill="none" stroke="#66cc55" stroke-width="1.6" stroke-dasharray="3.5 2.5"/>
<path d="M99.8,197.3 L113.8,194.1" fill="none" stroke="#66cc55" stroke-width="1.6" stroke-dasharray="3.5 2.5"/>
<path d="M50.3,250.2 L64.3,260.5" fill="none" stroke="#66cc55" stroke-width="1.6" stroke-dasharray="3.5 2.5"/>
<path d="M78.3,289.4 L93.2,298.8" fill="none" stroke="#66cc55" stroke-width="1.6" stroke-dasharray="3.5 2.5"/>
<path d="M97.9,253 L117.5,247.9" fill="none" stroke="#66cc55" stroke-width="1.6" stroke-dasharray="3.5 2.5"/>
<path d="M197.8,255.8 C195,263 191,271 186.6,277.3 C182,282 178,285 175.4,286.6 C170,289 164,291.5 158.6,293.2" fill="none" stroke="#66cc55" stroke-width="1.6" stroke-dasharray="3.5 2.5"/>
<path d="M140,293 L150,296" fill="none" stroke="#66cc55" stroke-width="1.6" stroke-dasharray="3.5 2.5"/>
<path d="M131,211 L139,212 L138,222 L140,222 L134,232 L131,222 L133,222 Z" fill="#8de67d" stroke="#66cc55" stroke-width="0.6"/>
<path d="M174,247 L183,244 L186,250 L176,251 Z" fill="#8de67d" stroke="#66cc55" stroke-width="0.6"/>
<path d="M156,244 L163,246 L160,253 L162,254 L154,258.5 L153,251 L151,251 Z" fill="#8de67d" stroke="#66cc55" stroke-width="0.6"/></g>
<use href="#prot1" transform="translate(245,-2.5)"/>
<path d="M196.5,236.5 H275 V233.5 L281.8,239.7 L275,245.8 V242.8 H196.5 Z" fill="#fff" stroke="#b13a35" stroke-width="1"/>
<g stroke-linecap="round" fill="none"><path d="M362,232 L366,228 L370,229 L372,233 L368,237 L364,236 Z" stroke="#5bc8d8" stroke-width="2"/><path d="M368,237 L372,243 L378,246 M370,229 L367,225 M356,239 L360,244 L364,240" stroke="#5bc8d8" stroke-width="2"/><path d="M352,240 L356,239" stroke="#d04040" stroke-width="2"/><path d="M356,239 L359,240" stroke="#3040c0" stroke-width="2"/><path d="M378,246 L381,250 L383,246 M381,250 L379,255" stroke="#e08030" stroke-width="2"/><path d="M362,232 L357,233" stroke="#d04040" stroke-width="1.8"/></g>
<rect x="330" y="219.5" width="60.6" height="40.9" fill="none" stroke="#b0302c" stroke-width="1.2"/>
<ellipse cx="704" cy="228.3" rx="119" ry="64.3" fill="#dad7d8" stroke="#e6e4e4" stroke-width="1.5"/>
<ellipse cx="760.6" cy="225.6" rx="33.6" ry="36.2" fill="#ca8888" stroke="#efe9e9" stroke-width="1.6"/>
<ellipse cx="743.6" cy="260.2" rx="35" ry="18" fill="#b9cbe3" fill-opacity="0.78" stroke="#eef0f4" stroke-width="1.6"/>
<defs><marker id="ah" viewBox="0 0 10 10" refX="9" refY="5" markerWidth="8" markerHeight="8" markerUnits="userSpaceOnUse" orient="auto"><path d="M0,0 L10,5 L0,10 L3,5 Z" fill="#111"/></marker><marker id="ah2" viewBox="0 0 10 10" refX="9" refY="5" markerWidth="9" markerHeight="9" markerUnits="userSpaceOnUse" orient="auto"><path d="M0,0 L10,5 L0,10 L3,5 Z" fill="#111"/></marker><marker id="ahd" viewBox="0 0 10 10" refX="9" refY="5" markerWidth="8" markerHeight="8" markerUnits="userSpaceOnUse" orient="auto"><path d="M1,1 L9,5 L1,9" fill="none" stroke="#333" stroke-width="1.3"/></marker></defs>
<rect x="277" y="497" width="276.5" height="200.7" fill="none" stroke="#c9524e" stroke-width="1.7"/>
<rect x="172.4" y="595.6" width="95" height="36.4" rx="1" fill="#a9c3cb" stroke="#2a2a2a" stroke-width="1"/>
<rect x="39.2" y="637" width="95" height="35" rx="1" fill="#b8d7a6" stroke="#2a2a2a" stroke-width="1"/>
<rect x="310.4" y="637.4" width="95.2" height="35" rx="1" fill="#f6d34b" stroke="#2a2a2a" stroke-width="1"/>
<path d="M219.5,566 V594.5" fill="none" stroke="#111" stroke-width="1.1" marker-end="url(#ah)"/>
<path d="M172.2,613 C130,614 95,622 87.8,635.6" fill="none" stroke="#111" stroke-width="1.1" marker-end="url(#ah)"/>
<path d="M267.6,613 C310,613 345,620 358,635.5" fill="none" stroke="#111" stroke-width="1.1" marker-end="url(#ah)"/>
<path d="M406.5,616.6 C404,624 375,624 359,635.5" fill="none" stroke="#111" stroke-width="1.1" marker-end="url(#ah)"/>
<path d="M134.4,653.8 H309.5" fill="none" stroke="#111" stroke-width="1" stroke-dasharray="4 3" marker-end="url(#ah)"/>
<path d="M182,742.3 C130,738 90,712 87,673" fill="none" stroke="#111" stroke-width="1.1" marker-end="url(#ah2)"/>
<path d="M405.8,654.6 H436.4" fill="none" stroke="#111" stroke-width="1" stroke-dasharray="6 3 1.5 3" marker-end="url(#ah)"/>
<path d="M502.3,655 C525,650 534,630 532,608 C530,580 510,550 475,546 C445,543 420,552 408,571.5" fill="none" stroke="#222" stroke-width="1.15" stroke-dasharray="0.9 2.4" stroke-linecap="round" marker-end="url(#ahd)"/>
<path d="M469,675 C466,690 458,700 440,707 C410,720 380,728 340,735 C310,740 285,744 262.5,745.8" fill="none" stroke="#222" stroke-width="1.15" stroke-dasharray="0.9 2.4" stroke-linecap="round" marker-end="url(#ahd)"/>
<path d="M426.5,582 L439.5,589.5 L439.5,604.5 L426.5,612 L413.5,604.5 L413.5,589.5 Z" fill="none" stroke="#333" stroke-width="0.8"/>
<path d="M428,585 L437,590.5 M437,603 L428,608.5 M416,603 L416,591" fill="none" stroke="#333" stroke-width="0.8"/>
<path d="M413.5,600 L400,604.8" fill="none" stroke="#333" stroke-width="0.8"/>
<path d="M386.8,596.4 L396,604" fill="none" stroke="#e05050" stroke-width="0.8"/>
<path d="M386.8,596.4 L372.8,601.8" fill="none" stroke="#333" stroke-width="0.8"/>
<path d="M386.8,596.4 L388.2,585 M384.8,596 L386.2,585" fill="none" stroke="#e05050" stroke-width="0.8"/>
<text x="395.3" y="608.3" font-family="Liberation Sans" font-size="6" fill="#e05050">O</text>
<text x="386.8" y="585.5" font-family="Liberation Sans" font-size="6" fill="#e05050">O</text>
<path d="M219.8,754.2 L222.9,740.2 L237.4,737.1 L247.8,748 L244.7,762 L230.2,765.6 Z" fill="none" stroke="#333" stroke-width="0.8"/>
<path d="M223.5,752.5 L226,741.8 M238,740 L245.5,748.5 M242.5,760 L231,762.5" fill="none" stroke="#333" stroke-width="0.8"/>
<path d="M219.8,754.2 L208,757.8" fill="none" stroke="#e05050" stroke-width="0.8"/>
<path d="M203,756 L195.4,747.5" fill="none" stroke="#e05050" stroke-width="0.8"/>
<path d="M195.4,747.5 L181.9,751.1" fill="none" stroke="#333" stroke-width="0.8"/>
<path d="M195.4,747.5 L198.8,736 M197.4,747.5 L200.8,736" fill="none" stroke="#e05050" stroke-width="0.8"/>
<path d="M230.2,765.6 L226,780.7" fill="none" stroke="#333" stroke-width="0.8"/>
<path d="M226,780.7 L214.5,782" fill="none" stroke="#e05050" stroke-width="0.8"/>
<path d="M226,780.7 L235.4,788.8 M227.5,779 L236.8,787" fill="none" stroke="#e05050" stroke-width="0.8"/>
<text x="203" y="761" font-family="Liberation Sans" font-size="6" fill="#e05050">O</text>
<text x="197.5" y="736" font-family="Liberation Sans" font-size="6" fill="#e05050">O</text>
<text x="205" y="784.5" font-family="Liberation Sans" font-size="5" fill="#e05050">HO</text>
<path d="M202.4,543.6 L208.7,533.6 L211,536 L205,545.5 Z" fill="#3f9a35"/>
<path d="M217.4,549.2 L221.1,540.4 L223.5,543 L220,551 Z" fill="#3f9a35"/>
<path d="M194.4,533 L200.6,533 L205.8,544.3 L199.3,544.8 Z" fill="#6fd860" stroke="#4fae42" stroke-width="0.7" stroke-linejoin="round"/>
<path d="M198.1,534.0 L202.8,542.8" stroke="#8ff27f" stroke-width="1.6"/>
<path d="M207.4,533.6 L214.3,533.6 L220.2,549.4 L213.6,549.8 Z" fill="#6fd860" stroke="#4fae42" stroke-width="0.7" stroke-linejoin="round"/>
<path d="M211.5,534.6 L217.1,547.9" stroke="#8ff27f" stroke-width="1.6"/>
<path d="M219.9,540.4 L227.3,540.4 L233.2,555.6 L226.1,556.4 Z" fill="#6fd860" stroke="#4fae42" stroke-width="0.7" stroke-linejoin="round"/>
<path d="M224.2,541.4 L229.8,554.1" stroke="#8ff27f" stroke-width="1.6"/>
<path d="M233,552.5 L238,548" fill="none" stroke="#66cc55" stroke-width="1.2"/>
<path d="M220.5,516 C222,510.5 230,509.5 232.8,514.5 C231,518.5 225,519.5 221.5,517.5 Z" fill="#58bf48" stroke="#3f9a35" stroke-width="0.6"/>
<path d="M221,518 C222,523 225,526 229,527 C232,527.5 235,526 237,524.5" fill="none" stroke="#62c652" stroke-width="1.8"/>
<path d="M206,523.5 C210,524.5 214,523.5 217,522 M226,507 C222,505.5 216,507 215,510 M240,513 C244,515.5 245,521 242,525 C239,527.5 236,528 233,527 M200,530 L203,532 M201,546 L204,550" fill="none" stroke="#a9df9e" stroke-width="1"/>
<rect x="395" y="1014.2" width="554.5" height="1.6" fill="#7a7a7a"/>
<rect x="395" y="1219" width="554.5" height="1.3" fill="#aaaaaa"/>
<g id="cy"><path d="M409.1,1079.4 C410,1073 412.5,1069 413.5,1065.3 C414,1058 414.5,1054 415.3,1051.2 C418,1045 423,1040 428.5,1038.4 C432,1037.8 434,1038 436.4,1038.8 C440,1041 443,1044 444.4,1045.9 C445.5,1049 446.2,1051.5 446.6,1053.8" fill="none" stroke="#55cfdc" stroke-width="1.8" stroke-dasharray="3.2 2"/><path d="M421.5,1058.2 C422,1055 423,1053 424.1,1052 C426,1050 428.5,1048.7 431.2,1048.5 C434,1048.5 437,1049.5 439.1,1050.3" fill="none" stroke="#55cfdc" stroke-width="1.6"/><path d="M421.5,1058.2 C419,1061 417,1063 416.2,1065.3 C416,1071 416.5,1077 417,1081.1" fill="none" stroke="#55cfdc" stroke-width="1.7" stroke-dasharray="3.2 2"/><path d="M425,1068 L436,1058.5 L458.5,1055 L460,1061 L438,1065 L433,1068.5 Z" fill="#55cfdc" stroke="#2d8f9c" stroke-width="0.5"/><path d="M433.8,1076.7 L456.5,1072.5 L456.3,1070.1 L462.9,1074.1 L457.6,1079.4 L457.2,1077.6 L435.6,1082.9 Z" fill="#55cfdc" stroke="#2d8f9c" stroke-width="0.5"/><path d="M399.4,1085.6 C402,1084 405,1085 407,1084 C408,1082 409,1080.5 410,1080.3 C413,1080 415.5,1081 416.2,1082.9 C417,1085 417.5,1087 417,1088.2 C415.5,1090 413.5,1091 412.6,1091.7 C411,1093 410.5,1095 410,1097 M408.2,1091.7 C405,1089.5 402,1088 399.4,1085.6" fill="none" stroke="#55cfdc" stroke-width="1.4"/><ellipse cx="435.2" cy="1110.8" rx="7.6" ry="10.2" transform="rotate(-10 435.2 1110.8)" fill="none" stroke="#2d8f9c" stroke-width="3.4"/><ellipse cx="435.2" cy="1110.8" rx="7.6" ry="10.2" transform="rotate(-10 435.2 1110.8)" fill="none" stroke="#55cfdc" stroke-width="2.2"/><ellipse cx="436.09999999999997" cy="1112.3999999999999" rx="7.6" ry="10.2" transform="rotate(-10 436.09999999999997 1112.3999999999999)" fill="none" stroke="#2d8f9c" stroke-width="3.4"/><ellipse cx="436.09999999999997" cy="1112.3999999999999" rx="7.6" ry="10.2" transform="rotate(-10 436.09999999999997 1112.3999999999999)" fill="none" stroke="#55cfdc" stroke-width="2.2"/><ellipse cx="437.0" cy="1114.0" rx="7.6" ry="10.2" transform="rotate(-10 437.0 1114.0)" fill="none" stroke="#2d8f9c" stroke-width="3.4"/><ellipse cx="437.0" cy="1114.0" rx="7.6" ry="10.2" transform="rotate(-10 437.0 1114.0)" fill="none" stroke="#55cfdc" stroke-width="2.2"/><path d="M438.2,1097 C440,1096 442,1095.5 444.4,1095.3 C448,1093 452,1091 456.7,1090 C460,1089 463,1088.5 465.5,1088.2 L471.7,1086.4 L467.3,1083.8 L472,1087" fill="none" stroke="#55cfdc" stroke-width="1.4"/><path d="M437,1083 L438,1097" fill="none" stroke="#55cfdc" stroke-width="0.9"/></g>
<use href="#cy" transform="translate(87.3,0)"/>
<use href="#cy" transform="translate(175.7,0)"/>
<use href="#cy" transform="translate(263.5,0)"/>
<use href="#cy" transform="translate(350.4,0)"/>
<use href="#cy" transform="translate(470.2,0)"/>
<path d="M423,1076 L427,1071 L431,1074 L430,1079 L426,1081 Z M426,1088 L429,1085 L433,1086 L434,1090 L430,1093 Z M426,1088 L420,1092 L417,1098 L415,1106 M420,1092 L423,1096" fill="none" stroke="#5bc24a" stroke-width="2"/><path d="M432,1088 L437,1087 L441,1083 L444,1086" fill="none" stroke="#3440b8" stroke-width="1.4"/>
<path d="M511,1068 L514,1066 L517,1068 L517,1071 L514,1073 L511,1071 Z M517,1070 L524,1070 M525,1086 L528,1083 L532,1084 L533,1088 L530,1090 Z M532,1085 L534,1078 L530,1074" fill="none" stroke="#5bc24a" stroke-width="2"/>
<path d="M590,1090 L594,1087 L598,1089 L598,1093 L594,1095 Z M598,1090 L604,1089 L608,1086 L612,1088 L612,1092 L608,1094 L604,1092 M612,1088 L617,1085 L622,1087 L622,1091 L617,1093" fill="none" stroke="#5bc24a" stroke-width="2"/><path d="M619,1086 L624,1084" fill="none" stroke="#d04040" stroke-width="1.4"/>
<path d="M680,1100 L684,1097 L688,1099 L688,1103 L684,1105 Z M688,1100 L692,1094 L697,1091 L701,1093 L701,1097 L697,1099 L693,1097 M701,1093 L705,1087 L709,1084 L712,1087 L712,1091" fill="none" stroke="#5bc24a" stroke-width="2"/><path d="M683,1093 L686,1096" fill="none" stroke="#d04040" stroke-width="1.4"/>
<path d="M770,1090 L774,1087 L778,1089 L778,1093 L774,1095 Z M778,1090 L782,1085 L786,1082 L790,1084 L790,1088 L786,1090 M790,1084 L796,1083 M800,1084 L804,1082 L808,1085 L808,1089 L804,1091 L800,1088 Z M774,1095 L771,1100" fill="none" stroke="#5bc24a" stroke-width="2"/><path d="M794,1090 L797,1093" fill="none" stroke="#3440b8" stroke-width="1.4"/>
<path d="M880,1087 L884,1085 L888,1087 L892,1085 M895,1086 L900,1083 L904,1086 L908,1083 L912,1086 L916,1084" fill="none" stroke="#5bc24a" stroke-width="2"/><path d="M886,1087 L886,1092 M889,1085 L892,1081 M892,1085 L895,1086" fill="none" stroke="#c04040" stroke-width="1.4"/>
<path d="M418.4,1161.0 L412.7,1164.3 L407.0,1161.0 L407.0,1154.4 L412.7,1151.1 L418.4,1154.4 Z M448.3,1155.4 L442.6,1158.7 L436.9,1155.4 L436.9,1148.8 L442.6,1145.5 L448.3,1148.8 Z M466.9,1165.1 L463.6,1170.8 L457.0,1170.8 L453.7,1165.1 L457.0,1159.4 L463.6,1159.4 Z" fill="none" stroke="#4a4a4a" stroke-width="0.75"/>
<path d="M414.6,1151 L414.6,1143.7 M418.3,1154.9 L424.9,1152.1 L430.5,1156.7 L436.1,1154.9 M424.9,1152.1 L425.5,1145.5 M467,1163 L471.5,1157.7 M458,1158.5 L459.4,1149" fill="none" stroke="#4a4a4a" stroke-width="0.75"/>
<path d="M406.9,1161 L399.7,1162.3" fill="none" stroke="#60c8e0" stroke-width="0.75"/>
<path d="M449.1,1149.3 L454.5,1146.5 L457,1139.5 L463.5,1139.5 L465,1146.5 L459.4,1149 Z M465,1146.5 L471.5,1148.3" fill="none" stroke="#5a5ae0" stroke-width="0.75"/>
<path d="M471.5,1157.7 L477.2,1160.5" fill="none" stroke="#e05a5a" stroke-width="0.75"/>
<path d="M510.9,1170.3 L505.2,1173.6 L499.5,1170.3 L499.5,1163.7 L505.2,1160.4 L510.9,1163.7 Z M531.4,1173.1 L525.7,1176.4 L520.0,1173.1 L520.0,1166.5 L525.7,1163.2 L531.4,1166.5 Z M548.2,1158.2 L542.5,1161.5 L536.8,1158.2 L536.8,1151.6 L542.5,1148.3 L548.2,1151.6 Z" fill="none" stroke="#4a4a4a" stroke-width="0.75"/>
<path d="M505.2,1160.4 L501.4,1152.1 L507,1145.5 M505.2,1138 L508,1145 M511,1166 L519.5,1167 M529,1164 L537,1159 M548,1151 L553.7,1144.6 M528,1176 L533.2,1187.5" fill="none" stroke="#4a4a4a" stroke-width="0.75"/>
<path d="M505.2,1138 L508.9,1133.4" fill="none" stroke="#e05a5a" stroke-width="0.75"/>
<path d="M525.7,1163.2 L531.4,1166.5 M520,1173 L525.7,1176.4" fill="none" stroke="#5a5ae0" stroke-width="0.75"/>
<path d="M593.4,1161.9 L587.7,1165.2 L582.0,1161.9 L582.0,1155.3 L587.7,1152.0 L593.4,1155.3 Z M627.0,1161.9 L621.3,1165.2 L615.6,1161.9 L615.6,1155.3 L621.3,1152.0 L627.0,1155.3 Z M650.4,1158.2 L644.7,1161.5 L639.0,1158.2 L639.0,1151.6 L644.7,1148.3 L650.4,1151.6 Z" fill="none" stroke="#4a4a4a" stroke-width="0.75"/>
<path d="M593.4,1155.3 L598,1156.7 L603.6,1156.7 M615.6,1162 L608,1161.4 M619,1152 L613.9,1147.4 M627,1155.3 L639,1158" fill="none" stroke="#4a4a4a" stroke-width="0.75"/>
<path d="M584,1152.5 L577.5,1147.4 M603.6,1156.7 L607.3,1161.4" fill="none" stroke="#e05a5a" stroke-width="0.75"/>
<path d="M582,1161.9 L573.7,1160.5 M641,1161 L639.1,1168.9" fill="none" stroke="#60c8e0" stroke-width="0.75"/>
<path d="M681.2,1162.8 L675.5,1166.1 L669.8,1162.8 L669.8,1156.2 L675.5,1152.9 L681.2,1156.2 Z M704.5,1161.9 L698.8,1165.2 L693.1,1161.9 L693.1,1155.3 L698.8,1152.0 L704.5,1155.3 Z M729.7,1156.7 L726.4,1162.4 L719.8,1162.4 L716.5,1156.7 L719.8,1151.0 L726.4,1151.0 Z" fill="none" stroke="#4a4a4a" stroke-width="0.75"/>
<path d="M681.2,1156.2 L693.1,1161.9 M704.5,1155.3 L716.5,1156.7 M729.7,1156.7 L737.1,1154.9 M669.8,1162.8 L660.6,1163.3 M726.4,1162.4 L730.6,1169.8" fill="none" stroke="#4a4a4a" stroke-width="0.75"/>
<path d="M671,1153 L665.2,1149.3 M730.6,1169.8 L727.8,1176.3" fill="none" stroke="#e05a5a" stroke-width="0.75"/>
<path d="M701,1152 L703.5,1146.5" fill="none" stroke="#60c8e0" stroke-width="0.75"/>
<path d="M771.4,1172.1 L765.7,1175.4 L760.0,1172.1 L760.0,1165.5 L765.7,1162.2 L771.4,1165.5 Z M786.0,1156.5 L780.3,1159.8 L774.6,1156.5 L774.6,1149.9 L780.3,1146.6 L786.0,1149.9 Z M819.2,1166.9 L813.5,1170.2 L807.8,1166.9 L807.8,1160.3 L813.5,1157.0 L819.2,1160.3 Z" fill="none" stroke="#4a4a4a" stroke-width="0.75"/>
<path d="M765.7,1162.2 L761.6,1155.3 L754.3,1152.2 M761.6,1155.3 L765.7,1148 M771,1165 L774.6,1156.5 M786,1156.5 L795.8,1154.2 M786,1156.5 L786.5,1164.6 M810,1157 L807.2,1150" fill="none" stroke="#4a4a4a" stroke-width="0.75"/>
<path d="M795.8,1154.2 L798.9,1161.5 L807.8,1160.3" fill="none" stroke="#e05a5a" stroke-width="0.75"/>
<path d="M786.5,1164.6 L782.3,1170.8 M807.2,1150 L805,1142.8" fill="none" stroke="#5a5ae0" stroke-width="0.75"/>
<path d="M779,1146.6 L776.1,1138" fill="none" stroke="#60c8e0" stroke-width="0.75"/>
<path d="M875.7,1162.5 L880.9,1158.4 L888.2,1162.5 M900.6,1162.5 L906.8,1158.4 L913,1162.5 L919.3,1158.4 L925.5,1162.5 L931.7,1158.4 L937.9,1162.5 L944,1158.6" fill="none" stroke="#4a4a4a" stroke-width="0.75"/>
<path d="M867.4,1159.4 L875.7,1162.5 M880.9,1158.4 L881.9,1152.2 M888.2,1162.5 L894.4,1158.4 L900.6,1162.5 M900.6,1162.5 L900.6,1169.8 M902,1162.5 L902,1169.8" fill="none" stroke="#e05a5a" stroke-width="0.75"/>
<rect x="397" y="837.4" width="545" height="1.2" fill="#555"/>
<rect x="397" y="878.7" width="545" height="1" fill="#555"/>
<rect x="397" y="970.4" width="545" height="0.8" fill="#666"/>
<rect x="397" y="996.6" width="545" height="0.8" fill="#555"/>
<rect x="397" y="999.4" width="545" height="1.3" fill="#555"/>
<text transform="translate(407.6,927) rotate(-90)" text-anchor="middle" font-family="Liberation Serif" font-style="italic" font-size="10.6" fill="#1a1a1a">Fixed Dataset</text>
<text transform="translate(407.6,984.5) rotate(-90)" text-anchor="middle" font-family="Liberation Serif" font-style="italic" font-size="10.6" fill="#1a1a1a">AL</text>
<path d="M595.10,544.40 L597.30,546.60 L595.10,548.80 L592.90,546.60 Z M595.10,550.60 L597.30,552.80 L595.10,555.00 L592.90,552.80 Z M592.00,547.50 L594.20,549.70 L592.00,551.90 L589.80,549.70 Z M598.20,547.50 L600.40,549.70 L598.20,551.90 L596.00,549.70 Z" fill="#000"/>
<path d="M595.10,654.10 L597.30,656.30 L595.10,658.50 L592.90,656.30 Z M595.10,660.30 L597.30,662.50 L595.10,664.70 L592.90,662.50 Z M592.00,657.20 L594.20,659.40 L592.00,661.60 L589.80,659.40 Z M598.20,657.20 L600.40,659.40 L598.20,661.60 L596.00,659.40 Z" fill="#000"/>
<path d="M595.10,746.20 L597.30,748.40 L595.10,750.60 L592.90,748.40 Z M595.10,752.40 L597.30,754.60 L595.10,756.80 L592.90,754.60 Z M592.00,749.30 L594.20,751.50 L592.00,753.70 L589.80,751.50 Z M598.20,749.30 L600.40,751.50 L598.20,753.70 L596.00,751.50 Z" fill="#000"/>
<path d="M37.30,869.50 L39.50,871.70 L37.30,873.90 L35.10,871.70 Z M37.30,875.70 L39.50,877.90 L37.30,880.10 L35.10,877.90 Z M34.20,872.60 L36.40,874.80 L34.20,877.00 L32.00,874.80 Z M40.40,872.60 L42.60,874.80 L40.40,877.00 L38.20,874.80 Z" fill="#000"/>
<path d="M37.30,927.40 L39.50,929.60 L37.30,931.80 L35.10,929.60 Z M37.30,933.60 L39.50,935.80 L37.30,938.00 L35.10,935.80 Z M34.20,930.50 L36.40,932.70 L34.20,934.90 L32.00,932.70 Z M40.40,930.50 L42.60,932.70 L40.40,934.90 L38.20,932.70 Z" fill="#000"/>
<path d="M37.30,985.60 L39.50,987.80 L37.30,990.00 L35.10,987.80 Z M37.30,991.80 L39.50,994.00 L37.30,996.20 L35.10,994.00 Z M34.20,988.70 L36.40,990.90 L34.20,993.10 L32.00,990.90 Z M40.40,988.70 L42.60,990.90 L40.40,993.10 L38.20,990.90 Z" fill="#000"/>
<path d="M37.30,1059.40 L39.50,1061.60 L37.30,1063.80 L35.10,1061.60 Z M37.30,1065.60 L39.50,1067.80 L37.30,1070.00 L35.10,1067.80 Z M34.20,1062.50 L36.40,1064.70 L34.20,1066.90 L32.00,1064.70 Z M40.40,1062.50 L42.60,1064.70 L40.40,1066.90 L38.20,1064.70 Z" fill="#000"/>
<rect x="28.5" y="1141.5" width="7" height="7" fill="none" stroke="#000" stroke-width="1"/><path d="M29,1148.2 H36.8 V1141.8" fill="none" stroke="#000" stroke-width="1.8"/>
<rect x="28.5" y="1191.3000000000002" width="7" height="7" fill="none" stroke="#000" stroke-width="1"/><path d="M29,1198.0000000000002 H36.8 V1191.6000000000001" fill="none" stroke="#000" stroke-width="1.8"/>
<path d="M26,1394 L22,1400 L19,1398 L20,1406 L14,1402 L13,1405 L8,1404 L10,1409 L6,1412 L13,1418 L12,1421 L22,1420 L26,1422 L30,1420 L40,1421 L39,1418 L46,1412 L42,1409 L44,1404 L39,1405 L38,1402 L32,1406 L33,1398 L30,1400 Z" fill="none" stroke="#f3e6e6" stroke-width="0.7"/>
<path d="M26,1422 V1432 M18,1406 L22,1412 L21,1418 M26,1400 L24,1408 L27,1415 M33,1406 L30,1412 L31,1418 M12,1410 L18,1415 M40,1410 L34,1415 M23,1404 L27,1404" fill="none" stroke="#f3e6e6" stroke-width="0.7"/>
<circle cx="26" cy="1394" r="0.9" fill="#f3e6e6"/>
<circle cx="22" cy="1400" r="0.9" fill="#f3e6e6"/>
<circle cx="30" cy="1400" r="0.9" fill="#f3e6e6"/>
<circle cx="14" cy="1402" r="0.9" fill="#f3e6e6"/>
<circle cx="38" cy="1402" r="0.9" fill="#f3e6e6"/>
<circle cx="8" cy="1404" r="0.9" fill="#f3e6e6"/>
<circle cx="44" cy="1404" r="0.9" fill="#f3e6e6"/>
<circle cx="6" cy="1412" r="0.9" fill="#f3e6e6"/>
<circle cx="46" cy="1412" r="0.9" fill="#f3e6e6"/>
<circle cx="13" cy="1418" r="0.9" fill="#f3e6e6"/>
<circle cx="39" cy="1418" r="0.9" fill="#f3e6e6"/>
<circle cx="22" cy="1420" r="0.9" fill="#f3e6e6"/>
<circle cx="30" cy="1420" r="0.9" fill="#f3e6e6"/>
<circle cx="26" cy="1432" r="0.9" fill="#f3e6e6"/>
<circle cx="18" cy="1406" r="0.9" fill="#f3e6e6"/>
<circle cx="33" cy="1406" r="0.9" fill="#f3e6e6"/>
<circle cx="24" cy="1408" r="0.9" fill="#f3e6e6"/>
<circle cx="21" cy="1418" r="0.9" fill="#f3e6e6"/>
<circle cx="31" cy="1418" r="0.9" fill="#f3e6e6"/>
<circle cx="27" cy="1415" r="0.9" fill="#f3e6e6"/>
</svg>
<div class="L" id="t0" style="left:172.50px;top:21.10px;font-size:24.8px;transform:scaleX(0.9105);font-weight:bold;-webkit-text-stroke:0;">TacoGFN: Target Conditioned GFlowNets for Drug Design</div><div class="L" id="t1" style="left:209.50px;top:55.90px;font-size:15.5px;transform:scaleX(0.9881);font-weight:bold;-webkit-text-stroke:0;">Tony Shen, Mohit Pandey, Jason Smith, Artem Cherkasov, and Martin Ester</div><div class="L r" id="t2" style="left:38.70px;top:110.20px;font-size:16.3px;transform:scaleX(0.9123);font-weight:bold;-webkit-text-stroke:0;">Key task in Structure Based Drug Discovery: Designing</div><div class="L r" id="t3" style="left:71.40px;top:127.20px;font-size:16.3px;transform:scaleX(0.9409);font-weight:bold;-webkit-text-stroke:0;">molecules based on protein pocket structure</div><div class="L r" id="t4" style="left:38.70px;top:312.10px;font-size:12.6px;transform:scaleX(0.9776);">Input: 3D Protein Pocket Graph</div><div class="L r" id="t5" style="left:283.00px;top:315.00px;font-size:12.6px;transform:scaleX(0.9753);">Output: Molecular Graph (2D)</div><div class="L" id="t6" style="left:52.00px;top:352.70px;font-size:12.8px;transform:scaleX(1.0540);">We seek to <b>automate the design</b> of small-molecule drugs that bind</div><div class="L" id="t7" style="left:52.00px;top:368.50px;font-size:12.8px;transform:scaleX(1.0924);">with <b>high affinity</b> to a protein target.</div><div class="L" id="t8" style="left:52.00px;top:386.30px;font-size:12.8px;transform:scaleX(1.0438);">Generated molecules should also have drug like properties (QED)</div><div class="L" id="t9" style="left:52.00px;top:402.30px;font-size:12.8px;transform:scaleX(1.0452);">and be easily synthesizable.</div><div class="L r" id="t10" style="left:493.20px;top:111.40px;font-size:16.3px;transform:scaleX(0.9355);font-weight:bold;-webkit-text-stroke:0;">Our approach: Explore beyond training distribution based on</div><div class="L r" id="t11" style="left:516.10px;top:129.60px;font-size:16.3px;transform:scaleX(0.9465);font-weight:bold;-webkit-text-stroke:0;">reward with Target Conditioned GFlowNets (TacoGFN)</div><div class="L" id="t12" style="left:501.00px;top:302.10px;font-size:12.8px;transform:scaleX(1.0604);">Existing structure-based molecule generation methods approximate</div><div class="L" id="t13" style="left:501.00px;top:317.60px;font-size:12.8px;transform:scaleX(1.0781);">the distribution of a dataset with MLE (maximum likelihood</div><div class="L" id="t14" style="left:501.00px;top:333.60px;font-size:12.8px;transform:scaleX(1.1082);">estimation).</div><div class="L" id="t15" style="left:501.00px;top:353.50px;font-size:12.8px;transform:scaleX(1.0328);">These methods <b>struggle to generate high reward</b> molecules, since</div><div class="L" id="t16" style="left:501.00px;top:369.40px;font-size:12.8px;transform:scaleX(1.0628);">training dataset is <b>limited</b> and often <b>does not cover</b> the high reward</div><div class="L" id="t17" style="left:501.00px;top:385.40px;font-size:12.8px;transform:scaleX(1.0517);">regions of the chemical space.</div><div class="L" id="t18" style="left:501.00px;top:405.50px;font-size:12.8px;transform:scaleX(1.0620);">We formulate the task as an <b>RL</b> problem - to search the chemical</div><div class="L" id="t19" style="left:501.00px;top:421.20px;font-size:12.8px;transform:scaleX(1.0925);">space for regions with high affinity/ desirable properties.</div><div class="L r" id="t20" style="left:53.00px;top:458.80px;font-size:15.3px;transform:scaleX(0.9963);font-weight:bold;-webkit-text-stroke:0;">High-level schematic of Target Conditional GFlowNets (TacoGFN)</div><div class="L r" id="t21" style="left:684.80px;top:458.60px;font-size:15.3px;transform:scaleX(0.9730);font-weight:bold;-webkit-text-stroke:0;">Method Components</div><div class="L" id="t22" style="left:590.40px;top:492.30px;font-size:12.8px;transform:scaleX(1.0375);"><b class="r">1. Target Conditional GFlowNets</b> is an extension to</div><div class="L" id="t23" style="left:590.40px;top:508.30px;font-size:12.8px;transform:scaleX(1.0769);">GFlowNets that incorporate pocket structure context</div><div class="L" id="t24" style="left:590.40px;top:524.40px;font-size:12.8px;transform:scaleX(1.0729);">for target-based molecule generation.</div><div class="L" id="t25" style="left:604.90px;top:544.50px;font-size:12.8px;transform:scaleX(1.0810);">It is a single conditional generative model that</div><div class="L" id="t26" style="left:604.90px;top:560.20px;font-size:12.8px;transform:scaleX(1.0975);">learns the distributions of high affinity drug-like</div><div class="L" id="t27" style="left:604.90px;top:576.20px;font-size:12.8px;transform:scaleX(1.0561);">molecules across all pocket structures.</div><div class="L" id="t28" style="left:590.40px;top:602.50px;font-size:12.8px;transform:scaleX(1.0206);"><b class="bl">2. Pocket Encoder</b> is a GVP-GNN model that encodes</div><div class="L" id="t29" style="left:590.40px;top:618.50px;font-size:12.8px;transform:scaleX(1.0862);">the protein pocket into an embedding. It is</div><div class="L" id="t30" style="left:590.40px;top:634.40px;font-size:12.8px;transform:scaleX(1.0681);">pretrained on docking score prediction task.</div><div class="L" id="t31" style="left:604.90px;top:654.30px;font-size:12.8px;transform:scaleX(1.0610);">Pocket encoder provides suitable representation</div><div class="L" id="t32" style="left:604.90px;top:670.30px;font-size:12.8px;transform:scaleX(1.0959);">for pocket-ligand interaction task.</div><div class="L" id="t33" style="left:590.40px;top:696.20px;font-size:12.8px;transform:scaleX(1.0354);"><b class="gr">3. Docking Proxy</b> is a Graph Transformer model</div><div class="L" id="t34" style="left:590.40px;top:712.10px;font-size:12.8px;transform:scaleX(1.0777);">trained to predict molecular docking score -</div><div class="L" id="t35" style="left:590.40px;top:728.40px;font-size:12.8px;transform:scaleX(1.0421);">bypassing the expensive molecular docking program.</div><div class="L" id="t36" style="left:604.90px;top:746.40px;font-size:12.8px;transform:scaleX(1.0797);">Docking proxy computes the affinity reward for</div><div class="L" id="t37" style="left:604.90px;top:762.30px;font-size:12.8px;transform:scaleX(1.0535);">molecules generated.</div><div class="L r" id="t38" style="left:40.60px;top:813.60px;font-size:15.3px;transform:scaleX(0.9953);font-weight:bold;-webkit-text-stroke:0;">Target Conditional GFlowNets outperforms</div><div class="L r" id="t39" style="left:48.20px;top:831.20px;font-size:15.3px;transform:scaleX(0.9849);font-weight:bold;-webkit-text-stroke:0;">baselines across all molecular properties</div><div class="L" id="t40" style="left:46.40px;top:869.70px;font-size:12.8px;transform:scaleX(1.0341);"><b class="r">Target Conditional GFlowNets</b> outperforms</div><div class="L" id="t41" style="left:46.40px;top:886.00px;font-size:12.8px;transform:scaleX(1.0585);">baseline methods across all molecular properties,</div><div class="L" id="t42" style="left:46.40px;top:901.80px;font-size:12.8px;transform:scaleX(1.0784);">including binding affinity (Vina Score).</div><div class="L" id="t43" style="left:46.40px;top:927.60px;font-size:12.8px;transform:scaleX(1.0442);">Our method has average score of 0.681 in drug</div><div class="L" id="t44" style="left:46.40px;top:943.90px;font-size:12.8px;transform:scaleX(1.0596);">likeness metric (QED) - a large improvement from</div><div class="L" id="t45" style="left:46.40px;top:959.70px;font-size:12.8px;transform:scaleX(1.0668);">the previous best at 0.592.</div><div class="L" id="t46" style="left:46.40px;top:985.80px;font-size:12.8px;transform:scaleX(1.0670);">Due to exploration based on the reward instead of</div><div class="L" id="t47" style="left:46.40px;top:1001.80px;font-size:12.8px;transform:scaleX(1.0919);">the training distribution, molecules generated from</div><div class="L" id="t48" style="left:46.40px;top:1017.70px;font-size:12.8px;transform:scaleX(1.0679);">TacoGFN have significantly better properties</div><div class="L" id="t49" style="left:46.40px;top:1033.50px;font-size:12.8px;transform:scaleX(1.0834);">compared to the training dataset.</div><div class="L" id="t50" style="left:46.40px;top:1059.60px;font-size:12.8px;transform:scaleX(1.0337);">TacoGFN generates molecules 50 to 1000 times</div><div class="L" id="t51" style="left:46.40px;top:1075.50px;font-size:12.8px;transform:scaleX(1.0611);">faster compared to baseline methods.</div><div class="L r" id="t52" style="left:142.80px;top:1114.40px;font-size:15.3px;transform:scaleX(1.0044);font-weight:bold;-webkit-text-stroke:0;">Future Directions</div><div class="L" id="t53" style="left:42.40px;top:1139.60px;font-size:12.0px;transform:scaleX(1.0277);">Simultaneously generation of molecular graph and</div><div class="L" id="t54" style="left:42.40px;top:1154.10px;font-size:12.0px;transform:scaleX(1.0531);">conformation conditioned to pocket structure using</div><div class="L" id="t55" style="left:42.40px;top:1169.70px;font-size:12.0px;transform:scaleX(0.9914);">GFlowNet.</div><div class="L" id="t56" style="left:42.40px;top:1189.40px;font-size:12.0px;transform:scaleX(1.0355);">Experiment with atom-based or scaffold-based molecule</div><div class="L" id="t57" style="left:42.40px;top:1205.00px;font-size:12.0px;transform:scaleX(1.0603);">construction for improved molecule diversity.</div><div class="L r" id="t58" style="left:586.70px;top:811.80px;font-size:15.3px;transform:scaleX(0.9821);font-weight:bold;-webkit-text-stroke:0;">Experimental Results</div><div class="L r" id="t59" style="left:480.10px;top:1229.70px;font-size:15.3px;transform:scaleX(0.9653);font-weight:bold;-webkit-text-stroke:0;">Summary</div><div class="L j" id="t60" style="left:43.70px;top:1257.80px;font-size:13.2px;width:880.85px;transform:scaleX(1.0130);">We presented TacoGFN - a GFlowNet tailored to the task of generalizable structure-based drug design. To search for high-affinity molecules with</div><div class="L j" id="t61" style="left:43.70px;top:1273.80px;font-size:13.2px;width:880.85px;transform:scaleX(1.0130);">desired properties in the vast chemical space efficiently, we design a target-conditioned GFlowNet, which incorporates pocket context and gets</div><div class="L j" id="t62" style="left:43.70px;top:1289.80px;font-size:13.2px;width:880.85px;transform:scaleX(1.0130);">rewards from our proposed docking score proxy. Empirically, we show that TACOGFN outperforms the state-of-the-art on target conditional</div><div class="L j" id="t63" style="left:43.70px;top:1305.30px;font-size:13.2px;width:880.85px;transform:scaleX(1.0130);">molecule generation for all molecular property metrics, while taking orders of magnitude less time. We show the incorporation of active learning</div><div class="L j" id="t64" style="left:43.70px;top:1321.30px;font-size:13.2px;width:880.85px;transform:scaleX(1.0130);">and screening using docking score proxy on generated molecules can further facilitate the discovery of molecules with desirable properties. In</div><div class="L" id="t65" style="left:43.70px;top:1337.20px;font-size:13.2px;transform:scaleX(1.0129);">summary, TACOGFN and its variants can offer great value for many existing real-world SBDD campaigns.</div><div class="L" id="t66" style="left:175.00px;top:1387.50px;font-size:13.2px;transform:scaleX(0.9390);font-weight:bold;color:#fff;-webkit-text-stroke:0;">We thank Emmanuel Bengio and Shuman Peng for the valuable discussions and feedback. This work was</div><div class="L" id="t67" style="left:155.00px;top:1403.50px;font-size:13.2px;transform:scaleX(0.9392);font-weight:bold;color:#fff;-webkit-text-stroke:0;">supported by the NSERC Discovery grant. We also thank the authors of GFlowNet and E3Bind for open sourcing</div><div class="L" id="t68" style="left:361.50px;top:1419.00px;font-size:13.2px;transform:scaleX(0.9699);font-weight:bold;color:#fff;-webkit-text-stroke:0;">their code, which this work is built upon.</div><div class="L" id="t69" style="left:44.60px;top:35.80px;font-size:22.5px;transform:scaleX(0.9489);color:#fff;-webkit-text-stroke:0;">SFU</div><div class="L" id="t70" style="left:45.10px;top:76.40px;font-size:8.0px;transform:scaleX(1.0751);font-family:'Liberation Serif',serif;color:#555;">VANCOUVER</div><div class="L" id="t71" style="left:45.10px;top:83.80px;font-size:8.8px;transform:scaleX(0.9897);font-family:'Liberation Serif',serif;color:#555;">PROSTATE CENTRE</div><div class="L" id="t72" style="left:45.10px;top:94.40px;font-size:3.6px;transform:scaleX(1.1623);font-family:'Liberation Serif',serif;color:#444;">A UBC &amp; VGH Centre of Excellence</div><div class="L" id="t73" style="left:106.00px;top:19.40px;font-size:17.3px;transform:scaleX(0.9612);font-weight:bold;color:#0c1030;;-webkit-text-stroke:0;">UBC</div><div class="L" id="t74" style="left:862.60px;top:88.00px;font-size:13.8px;transform:scaleX(0.9575);color:#fff;">SCAN ME</div><div class="L" id="t75" style="left:874.20px;top:1424.20px;font-size:13.8px;transform:scaleX(0.9447);color:#fff;">SCAN ME</div><div class="L" id="t76" style="left:51.10px;top:1413.50px;font-size:24px;transform:scaleX(0.9286);color:#f4eeee;-webkit-text-stroke:0;">SFU AI</div><div class="L" id="t77" style="left:37.00px;top:352.70px;font-size:12.8px;">&#8226;</div><div class="L" id="t78" style="left:37.00px;top:386.30px;font-size:12.8px;">&#8226;</div><div class="L" id="t79" style="left:486.50px;top:302.10px;font-size:12.8px;">&#8226;</div><div class="L" id="t80" style="left:486.50px;top:353.50px;font-size:12.8px;">&#8226;</div><div class="L" id="t81" style="left:486.50px;top:405.50px;font-size:12.8px;">&#8226;</div><div class="L" id="t82" style="left:618.00px;top:206.80px;font-size:14.2px;transform:scaleX(0.9815);">Chemical Space</div><div class="L" id="t83" style="left:747.50px;top:209.30px;font-size:10.4px;transform:scaleX(0.9029);">High</div><div class="L" id="t84" style="left:747.50px;top:219.50px;font-size:10.4px;transform:scaleX(1.0164);">Reward</div><div class="L" id="t85" style="left:747.50px;top:230.30px;font-size:10.4px;transform:scaleX(0.9784);">Regions</div><div class="L" id="t86" style="left:715.50px;top:253.70px;font-size:7.6px;transform:scaleX(1.0163);">Training</div><div class="L" id="t87" style="left:715.50px;top:261.80px;font-size:7.6px;transform:scaleX(1.0715);">Distribution</div><div class="L" id="t88" style="left:134.70px;top:510.50px;font-size:12.8px;transform:scaleX(1.1123);font-style:italic;color:#222;">Protein</div><div class="L" id="t89" style="left:134.70px;top:527.30px;font-size:12.8px;transform:scaleX(1.0377);font-style:italic;color:#222;">Pocket</div><div class="L" id="t90" style="left:134.70px;top:543.90px;font-size:12.8px;transform:scaleX(1.1190);font-style:italic;color:#222;">Structure</div><div class="L" id="t91" style="left:199.00px;top:600.00px;font-size:13.5px;transform:scaleX(0.9575);font-weight:bold;color:#111;;-webkit-text-stroke:0;">Pocket</div><div class="L" id="t92" style="left:193.90px;top:616.00px;font-size:13.5px;transform:scaleX(0.9645);font-weight:bold;color:#111;;-webkit-text-stroke:0;">Encoder</div><div class="L" id="t93" style="left:62.40px;top:640.90px;font-size:13.5px;transform:scaleX(0.9406);font-weight:bold;color:#111;;-webkit-text-stroke:0;">Docking</div><div class="L" id="t94" style="left:68.90px;top:656.50px;font-size:13.5px;transform:scaleX(0.9752);font-weight:bold;color:#111;;-webkit-text-stroke:0;">Proxy</div><div class="L" id="t95" style="left:339.10px;top:640.70px;font-size:13.5px;transform:scaleX(0.9552);font-weight:bold;color:#111;;-webkit-text-stroke:0;">Policy</div><div class="L" id="t96" style="left:339.10px;top:656.30px;font-size:13.5px;transform:scaleX(0.9744);font-weight:bold;color:#111;;-webkit-text-stroke:0;">Model</div><div class="L" id="t97" style="left:179.20px;top:663.10px;font-size:11.8px;transform:scaleX(0.9901);color:#222;">Rewards</div><div class="L" id="t98" style="left:179.20px;top:677.60px;font-size:11.8px;transform:scaleX(1.0477);color:#222;">propagates to</div><div class="L" id="t99" style="left:179.20px;top:692.20px;font-size:11.8px;transform:scaleX(1.0690);color:#222;">policy model</div><div class="L" id="t100" style="left:139.00px;top:749.50px;font-size:12.8px;transform:scaleX(1.0739);font-style:italic;color:#222;">Final</div><div class="L" id="t101" style="left:139.00px;top:766.10px;font-size:12.8px;transform:scaleX(1.0797);font-style:italic;color:#222;">Molecule</div><div class="L" id="t102" style="left:289.30px;top:510.10px;font-size:13.4px;transform:scaleX(0.9884);font-weight:bold;color:#c24d48;;-webkit-text-stroke:0;">Target Conditional GFlowNet (TacoGFN)</div><div class="L" id="t103" style="left:323.70px;top:570.20px;font-size:12.8px;transform:scaleX(1.1521);font-style:italic;color:#222;">Partial</div><div class="L" id="t104" style="left:323.70px;top:586.40px;font-size:12.8px;transform:scaleX(1.0699);font-style:italic;color:#222;">Molecule</div><div class="L" id="t105" style="left:465.60px;top:587.40px;font-size:11.5px;transform:scaleX(1.0755);color:#222;">Ex Action:</div><div class="L" id="t106" style="left:465.60px;top:601.70px;font-size:11.5px;transform:scaleX(1.0357);color:#222;">Add</div><div class="L" id="t107" style="left:465.60px;top:615.70px;font-size:11.5px;transform:scaleX(1.0333);color:#222;">Carboxyl</div><div class="L" id="t108" style="left:448.30px;top:650.50px;font-size:14.8px;transform:scaleX(1.0578);color:#111;">Action</div><div class="L" id="t109" style="left:403.80px;top:730.00px;font-size:11.5px;transform:scaleX(1.1250);color:#222;">Exit Action:</div><div class="L" id="t110" style="left:403.80px;top:744.00px;font-size:11.5px;transform:scaleX(1.0428);color:#222;">Molecule</div><div class="L" id="t111" style="left:403.80px;top:759.00px;font-size:11.5px;transform:scaleX(1.0697);color:#222;">Completed</div><div class="L" id="t112" style="left:414.10px;top:851.60px;font-size:10.4px;transform:scaleX(1.0777);font-family:'Liberation Serif',serif;color:#262626;-webkit-text-stroke:0;">Methods</div><div class="L" id="t113" style="left:527.50px;top:851.40px;font-size:10.4px;transform:scaleX(1.0602);font-family:'Liberation Serif',serif;color:#262626;-webkit-text-stroke:0;">Affinity</div><div class="L" id="t114" style="left:515.00px;top:864.20px;font-size:10.4px;transform:scaleX(1.1147);font-family:'Liberation Serif',serif;color:#262626;-webkit-text-stroke:0;">(Vina Score)</div><div class="L" id="t115" style="left:579.00px;top:851.40px;font-size:10.4px;transform:scaleX(1.1086);font-family:'Liberation Serif',serif;color:#262626;-webkit-text-stroke:0;">Druglikeness</div><div class="L" id="t116" style="left:594.50px;top:864.20px;font-size:10.4px;transform:scaleX(1.0714);font-family:'Liberation Serif',serif;color:#262626;-webkit-text-stroke:0;">(QED)</div><div class="L" id="t117" style="left:644.70px;top:851.40px;font-size:10.4px;transform:scaleX(1.1054);font-family:'Liberation Serif',serif;color:#262626;-webkit-text-stroke:0;">Synthetic Accessibility</div><div class="L" id="t118" style="left:684.00px;top:864.20px;font-size:10.4px;transform:scaleX(1.1285);font-family:'Liberation Serif',serif;color:#262626;-webkit-text-stroke:0;">(SA)</div><div class="L" id="t119" style="left:760.30px;top:851.40px;font-size:10.4px;transform:scaleX(1.1184);font-family:'Liberation Serif',serif;color:#262626;-webkit-text-stroke:0;">Lipinski&#8217;s</div><div class="L" id="t120" style="left:762.40px;top:864.20px;font-size:10.4px;transform:scaleX(1.0783);font-family:'Liberation Serif',serif;color:#262626;-webkit-text-stroke:0;">Rule of 5</div><div class="L" id="t121" style="left:822.80px;top:851.40px;font-size:10.4px;transform:scaleX(1.0861);font-family:'Liberation Serif',serif;color:#262626;-webkit-text-stroke:0;">Diversity</div><div class="L" id="t122" style="left:897.00px;top:851.40px;font-size:10.4px;transform:scaleX(1.0899);font-family:'Liberation Serif',serif;color:#262626;-webkit-text-stroke:0;">Time</div><div class="L" id="t123" style="left:414.10px;top:884.30px;font-size:10.4px;font-family:'Liberation Serif',serif;color:#262626;-webkit-text-stroke:0;transform:scaleX(1.09);">Reference</div><div class="L" id="t124" style="left:543.90px;top:884.30px;font-size:10.4px;transform-origin:50% 0;transform:translateX(-50%) scaleX(1.147);font-family:'Liberation Serif',serif;color:#262626;-webkit-text-stroke:0;">-7.158&#177;2.10</div><div class="L" id="t125" style="left:608.70px;top:884.30px;font-size:10.4px;transform-origin:50% 0;transform:translateX(-50%) scaleX(1.157);font-family:'Liberation Serif',serif;color:#262626;-webkit-text-stroke:0;">0.484&#177;0.21</div><div class="L" id="t126" style="left:697.30px;top:884.30px;font-size:10.4px;transform-origin:50% 0;transform:translateX(-50%) scaleX(1.15);font-family:'Liberation Serif',serif;color:#262626;-webkit-text-stroke:0;">0.732&#177;0.14</div><div class="L" id="t127" style="left:782.90px;top:884.30px;font-size:10.4px;transform-origin:50% 0;transform:translateX(-50%) scaleX(1.15);font-family:'Liberation Serif',serif;color:#262626;-webkit-text-stroke:0;">4.367&#177;1.14</div><div class="L" id="t128" style="left:843.00px;top:884.30px;font-size:10.4px;transform-origin:50% 0;transform:translateX(-50%) scaleX(1.15);font-family:'Liberation Serif',serif;color:#262626;-webkit-text-stroke:0;">-</div><div class="L" id="t129" style="left:907.80px;top:884.30px;font-size:10.4px;transform-origin:50% 0;transform:translateX(-50%) scaleX(1.12);font-family:'Liberation Serif',serif;color:#262626;-webkit-text-stroke:0;">-</div><div class="L" id="t130" style="left:414.10px;top:896.40px;font-size:10.4px;font-family:'Liberation Serif',serif;color:#262626;-webkit-text-stroke:0;transform:scaleX(1.09);">LiGAN</div><div class="L" id="t131" style="left:543.90px;top:896.40px;font-size:10.4px;transform-origin:50% 0;transform:translateX(-50%) scaleX(1.147);font-family:'Liberation Serif',serif;color:#262626;-webkit-text-stroke:0;">-6.114&#177;1.57</div><div class="L" id="t132" style="left:608.70px;top:896.40px;font-size:10.4px;transform-origin:50% 0;transform:translateX(-50%) scaleX(1.157);font-family:'Liberation Serif',serif;color:#262626;-webkit-text-stroke:0;">0.369&#177;0.22</div><div class="L" id="t133" style="left:697.30px;top:896.40px;font-size:10.4px;transform-origin:50% 0;transform:translateX(-50%) scaleX(1.15);font-family:'Liberation Serif',serif;color:#262626;-webkit-text-stroke:0;">0.590&#177;0.15</div><div class="L" id="t134" style="left:782.90px;top:896.40px;font-size:10.4px;transform-origin:50% 0;transform:translateX(-50%) scaleX(1.15);font-family:'Liberation Serif',serif;color:#262626;-webkit-text-stroke:0;">4.027&#177;1.38</div><div class="L" id="t135" style="left:843.00px;top:896.40px;font-size:10.4px;transform-origin:50% 0;transform:translateX(-50%) scaleX(1.15);font-family:'Liberation Serif',serif;color:#262626;-webkit-text-stroke:0;">0.654&#177;0.12</div><div class="L" id="t136" style="left:907.80px;top:896.40px;font-size:10.4px;transform-origin:50% 0;transform:translateX(-50%) scaleX(1.12);font-family:'Liberation Serif',serif;color:#262626;-webkit-text-stroke:0;">*</div><div class="L" id="t137" style="left:414.10px;top:908.80px;font-size:10.4px;font-family:'Liberation Serif',serif;color:#262626;-webkit-text-stroke:0;transform:scaleX(1.09);">Pocket2Mol</div><div class="L" id="t138" style="left:543.90px;top:908.80px;font-size:10.4px;transform-origin:50% 0;transform:translateX(-50%) scaleX(1.147);font-family:'Liberation Serif',serif;color:#262626;-webkit-text-stroke:0;">-7.288&#177;2.53</div><div class="L" id="t139" style="left:608.70px;top:908.80px;font-size:10.4px;transform-origin:50% 0;transform:translateX(-50%) scaleX(1.157);font-family:'Liberation Serif',serif;color:#262626;-webkit-text-stroke:0;">0.563&#177;0.16</div><div class="L" id="t140" style="left:697.30px;top:908.80px;font-size:10.4px;transform-origin:50% 0;transform:translateX(-50%) scaleX(1.15);font-family:'Liberation Serif',serif;color:#262626;-webkit-text-stroke:0;">0.765&#177;0.13</div><div class="L" id="t141" style="left:782.90px;top:908.80px;font-size:10.4px;transform-origin:50% 0;transform:translateX(-50%) scaleX(1.15);font-family:'Liberation Serif',serif;color:#262626;-webkit-text-stroke:0;">4.902&#177;0.42</div><div class="L" id="t142" style="left:843.00px;top:908.80px;font-size:10.4px;transform-origin:50% 0;transform:translateX(-50%) scaleX(1.15);font-family:'Liberation Serif',serif;color:#262626;-webkit-text-stroke:0;">0.688&#177;0.14</div><div class="L" id="t143" style="left:907.80px;top:908.80px;font-size:10.4px;transform-origin:50% 0;transform:translateX(-50%) scaleX(1.12);font-family:'Liberation Serif',serif;color:#262626;-webkit-text-stroke:0;">2503.5&#177;2207</div><div class="L" id="t144" style="left:414.10px;top:921.60px;font-size:10.4px;font-family:'Liberation Serif',serif;color:#262626;-webkit-text-stroke:0;transform:scaleX(1.09);">TargetDiff</div><div class="L" id="t145" style="left:543.90px;top:921.60px;font-size:10.4px;transform-origin:50% 0;transform:translateX(-50%) scaleX(1.147);font-family:'Liberation Serif',serif;color:#262626;-webkit-text-stroke:0;">-7.318&#177;2.47</div><div class="L" id="t146" style="left:608.70px;top:921.60px;font-size:10.4px;transform-origin:50% 0;transform:translateX(-50%) scaleX(1.157);font-family:'Liberation Serif',serif;color:#262626;-webkit-text-stroke:0;">0.483&#177;0.20</div><div class="L" id="t147" style="left:697.30px;top:921.60px;font-size:10.4px;transform-origin:50% 0;transform:translateX(-50%) scaleX(1.15);font-family:'Liberation Serif',serif;color:#262626;-webkit-text-stroke:0;">0.584&#177;0.13</div><div class="L" id="t148" style="left:782.90px;top:921.60px;font-size:10.4px;transform-origin:50% 0;transform:translateX(-50%) scaleX(1.15);font-family:'Liberation Serif',serif;color:#262626;-webkit-text-stroke:0;">4.594&#177;0.83</div><div class="L" id="t149" style="left:843.00px;top:921.60px;font-size:10.4px;transform-origin:50% 0;transform:translateX(-50%) scaleX(1.15);font-family:'Liberation Serif',serif;color:#262626;-webkit-text-stroke:0;">0.718&#177;0.09</div><div class="L" id="t150" style="left:907.80px;top:921.60px;font-size:10.4px;transform-origin:50% 0;transform:translateX(-50%) scaleX(1.12);font-family:'Liberation Serif',serif;color:#262626;-webkit-text-stroke:0;">&#8764; 3428</div><div class="L" id="t151" style="left:414.10px;top:933.70px;font-size:10.4px;font-family:'Liberation Serif',serif;color:#262626;-webkit-text-stroke:0;transform:scaleX(1.09);">DiffSBDD</div><div class="L" id="t152" style="left:543.90px;top:933.70px;font-size:10.4px;transform-origin:50% 0;transform:translateX(-50%) scaleX(1.147);font-family:'Liberation Serif',serif;color:#262626;-webkit-text-stroke:0;">-7.333&#177;2.56</div><div class="L" id="t153" style="left:608.70px;top:933.70px;font-size:10.4px;transform-origin:50% 0;transform:translateX(-50%) scaleX(1.157);font-family:'Liberation Serif',serif;color:#262626;-webkit-text-stroke:0;">0.467&#177;0.18</div><div class="L" id="t154" style="left:697.30px;top:933.70px;font-size:10.4px;transform-origin:50% 0;transform:translateX(-50%) scaleX(1.15);font-family:'Liberation Serif',serif;color:#262626;-webkit-text-stroke:0;">0.554&#177;0.12</div><div class="L" id="t155" style="left:782.90px;top:933.70px;font-size:10.4px;transform-origin:50% 0;transform:translateX(-50%) scaleX(1.15);font-family:'Liberation Serif',serif;color:#262626;-webkit-text-stroke:0;">4.702&#177;0.64</div><div class="L" id="t156" style="left:843.00px;top:933.70px;font-size:10.4px;transform-origin:50% 0;transform:translateX(-50%) scaleX(1.15);font-family:'Liberation Serif',serif;color:#262626;-webkit-text-stroke:0;"><b>0.758&#177;0.05</b></div><div class="L" id="t157" style="left:907.80px;top:933.70px;font-size:10.4px;transform-origin:50% 0;transform:translateX(-50%) scaleX(1.12);font-family:'Liberation Serif',serif;color:#262626;-webkit-text-stroke:0;">160.3 &#177; 73.3</div><div class="L" id="t158" style="left:414.10px;top:946.50px;font-size:10.4px;font-family:'Liberation Serif',serif;color:#262626;-webkit-text-stroke:0;transform:scaleX(1.09);">DrugGPS</div><div class="L" id="t159" style="left:543.90px;top:946.50px;font-size:10.4px;transform-origin:50% 0;transform:translateX(-50%) scaleX(1.147);font-family:'Liberation Serif',serif;color:#262626;-webkit-text-stroke:0;">-7.345&#177;2.42</div><div class="L" id="t160" style="left:608.70px;top:946.50px;font-size:10.4px;transform-origin:50% 0;transform:translateX(-50%) scaleX(1.157);font-family:'Liberation Serif',serif;color:#262626;-webkit-text-stroke:0;">0.592&#177;0.21</div><div class="L" id="t161" style="left:697.30px;top:946.50px;font-size:10.4px;transform-origin:50% 0;transform:translateX(-50%) scaleX(1.15);font-family:'Liberation Serif',serif;color:#262626;-webkit-text-stroke:0;">0.728&#177;0.23</div><div class="L" id="t162" style="left:782.90px;top:946.50px;font-size:10.4px;transform-origin:50% 0;transform:translateX(-50%) scaleX(1.15);font-family:'Liberation Serif',serif;color:#262626;-webkit-text-stroke:0;">4.923&#177;0.11</div><div class="L" id="t163" style="left:843.00px;top:946.50px;font-size:10.4px;transform-origin:50% 0;transform:translateX(-50%) scaleX(1.15);font-family:'Liberation Serif',serif;color:#262626;-webkit-text-stroke:0;">0.695&#177;0.17</div><div class="L" id="t164" style="left:907.80px;top:946.50px;font-size:10.4px;transform-origin:50% 0;transform:translateX(-50%) scaleX(1.12);font-family:'Liberation Serif',serif;color:#262626;-webkit-text-stroke:0;">956.3&#177;451.6</div><div class="L" id="t165" style="left:414.10px;top:959.00px;font-size:10.4px;font-family:'Liberation Serif',serif;color:#262626;-webkit-text-stroke:0;transform:scaleX(1.09);">TacoGFN</div><div class="L" id="t166" style="left:543.90px;top:959.00px;font-size:10.4px;transform-origin:50% 0;transform:translateX(-50%) scaleX(1.147);font-family:'Liberation Serif',serif;color:#262626;-webkit-text-stroke:0;"><b>-7.405&#177;1.70</b></div><div class="L" id="t167" style="left:608.70px;top:959.00px;font-size:10.4px;transform-origin:50% 0;transform:translateX(-50%) scaleX(1.157);font-family:'Liberation Serif',serif;color:#262626;-webkit-text-stroke:0;"><b>0.681&#177;0.20</b></div><div class="L" id="t168" style="left:697.30px;top:959.00px;font-size:10.4px;transform-origin:50% 0;transform:translateX(-50%) scaleX(1.15);font-family:'Liberation Serif',serif;color:#262626;-webkit-text-stroke:0;"><b>0.783&#177;0.07</b></div><div class="L" id="t169" style="left:782.90px;top:959.00px;font-size:10.4px;transform-origin:50% 0;transform:translateX(-50%) scaleX(1.15);font-family:'Liberation Serif',serif;color:#262626;-webkit-text-stroke:0;"><b>4.938&#177;0.24</b></div><div class="L" id="t170" style="left:843.00px;top:959.00px;font-size:10.4px;transform-origin:50% 0;transform:translateX(-50%) scaleX(1.15);font-family:'Liberation Serif',serif;color:#262626;-webkit-text-stroke:0;">0.653&#177;0.07</div><div class="L" id="t171" style="left:907.80px;top:959.00px;font-size:10.4px;transform-origin:50% 0;transform:translateX(-50%) scaleX(1.12);font-family:'Liberation Serif',serif;color:#262626;-webkit-text-stroke:0;"><b>2.90&#177;0.28</b></div><div class="L" id="t172" style="left:414.10px;top:972.20px;font-size:10.4px;font-family:'Liberation Serif',serif;color:#262626;-webkit-text-stroke:0;transform:scaleX(1.09);">TacoGFN-AL</div><div class="L" id="t173" style="left:543.90px;top:972.20px;font-size:10.4px;transform-origin:50% 0;transform:translateX(-50%) scaleX(1.147);font-family:'Liberation Serif',serif;color:#262626;-webkit-text-stroke:0;">-7.678&#177;1.71</div><div class="L" id="t174" style="left:608.70px;top:972.20px;font-size:10.4px;transform-origin:50% 0;transform:translateX(-50%) scaleX(1.157);font-family:'Liberation Serif',serif;color:#262626;-webkit-text-stroke:0;">0.640&#177;0.21</div><div class="L" id="t175" style="left:697.30px;top:972.20px;font-size:10.4px;transform-origin:50% 0;transform:translateX(-50%) scaleX(1.15);font-family:'Liberation Serif',serif;color:#262626;-webkit-text-stroke:0;">0.814&#177; 0.06</div><div class="L" id="t176" style="left:782.90px;top:972.20px;font-size:10.4px;transform-origin:50% 0;transform:translateX(-50%) scaleX(1.15);font-family:'Liberation Serif',serif;color:#262626;-webkit-text-stroke:0;">4.931&#177;0.26</div><div class="L" id="t177" style="left:843.00px;top:972.20px;font-size:10.4px;transform-origin:50% 0;transform:translateX(-50%) scaleX(1.15);font-family:'Liberation Serif',serif;color:#262626;-webkit-text-stroke:0;">0.663&#177;0.07</div><div class="L" id="t178" style="left:907.80px;top:972.20px;font-size:10.4px;transform-origin:50% 0;transform:translateX(-50%) scaleX(1.12);font-family:'Liberation Serif',serif;color:#262626;-webkit-text-stroke:0;">3.07&#177;0.31</div><div class="L" id="t179" style="left:414.10px;top:983.80px;font-size:10.4px;font-family:'Liberation Serif',serif;color:#262626;-webkit-text-stroke:0;transform:scaleX(1.09);">TacoGFN-AL-<i>Top50</i></div><div class="L" id="t180" style="left:543.90px;top:983.80px;font-size:10.4px;transform-origin:50% 0;transform:translateX(-50%) scaleX(1.147);font-family:'Liberation Serif',serif;color:#262626;-webkit-text-stroke:0;"><b>-7.924&#177;1.55</b></div><div class="L" id="t181" style="left:608.70px;top:983.80px;font-size:10.4px;transform-origin:50% 0;transform:translateX(-50%) scaleX(1.157);font-family:'Liberation Serif',serif;color:#262626;-webkit-text-stroke:0;"><b>0.678&#177;0.15</b></div><div class="L" id="t182" style="left:697.30px;top:983.80px;font-size:10.4px;transform-origin:50% 0;transform:translateX(-50%) scaleX(1.15);font-family:'Liberation Serif',serif;color:#262626;-webkit-text-stroke:0;"><b>0.821&#177;0.06</b></div><div class="L" id="t183" style="left:782.90px;top:983.80px;font-size:10.4px;transform-origin:50% 0;transform:translateX(-50%) scaleX(1.15);font-family:'Liberation Serif',serif;color:#262626;-webkit-text-stroke:0;"><b>4.997&#177;0.06</b></div><div class="L" id="t184" style="left:843.00px;top:983.80px;font-size:10.4px;transform-origin:50% 0;transform:translateX(-50%) scaleX(1.15);font-family:'Liberation Serif',serif;color:#262626;-webkit-text-stroke:0;"><b>0.675&#177;0.07</b></div><div class="L" id="t185" style="left:907.80px;top:983.80px;font-size:10.4px;transform-origin:50% 0;transform:translateX(-50%) scaleX(1.12);font-family:'Liberation Serif',serif;color:#262626;-webkit-text-stroke:0;">3.07&#177;0.31</div><div class="L" id="t186" style="left:400.50px;top:1022.70px;font-size:7.6px;transform:scaleX(1.0676);color:#222;-webkit-text-stroke:0;">Ours (4lfu)</div><div class="L" id="t187" style="left:868.00px;top:1022.70px;font-size:7.6px;transform:scaleX(1.0431);color:#222;-webkit-text-stroke:0;">Reference (4lfu)</div><div class="L" id="t188" style="left:400.50px;top:1199.00px;font-size:7.8px;color:#222;-webkit-text-stroke:0;">Vina: -11.1</div><div class="L" id="t189" style="left:400.50px;top:1208.60px;font-size:7.8px;color:#222;-webkit-text-stroke:0;">QED: 0.58 SA: 0.74</div><div class="L" id="t190" style="left:485.70px;top:1199.00px;font-size:7.8px;color:#222;-webkit-text-stroke:0;">Vina: -11.5</div><div class="L" id="t191" style="left:485.70px;top:1208.60px;font-size:7.8px;color:#222;-webkit-text-stroke:0;">QED: 0.71 SA: 0.86</div><div class="L" id="t192" style="left:575.00px;top:1199.00px;font-size:7.8px;color:#222;-webkit-text-stroke:0;">Vina: -11.8</div><div class="L" id="t193" style="left:575.00px;top:1208.60px;font-size:7.8px;color:#222;-webkit-text-stroke:0;">QED: 0.71 SA: 0.90</div><div class="L" id="t194" style="left:663.00px;top:1199.00px;font-size:7.8px;color:#222;-webkit-text-stroke:0;">Vina: -10.9</div><div class="L" id="t195" style="left:663.00px;top:1208.60px;font-size:7.8px;color:#222;-webkit-text-stroke:0;">QED: 0.81 SA: 0.75</div><div class="L" id="t196" style="left:751.80px;top:1199.00px;font-size:7.8px;color:#222;-webkit-text-stroke:0;">Vina: -10.9</div><div class="L" id="t197" style="left:751.80px;top:1208.60px;font-size:7.8px;color:#222;-webkit-text-stroke:0;">QED: 0.63 SA: 0.83</div><div class="L" id="t198" style="left:870.00px;top:1199.00px;font-size:7.8px;color:#222;-webkit-text-stroke:0;">Vina: -6.3</div><div class="L" id="t199" style="left:870.00px;top:1208.60px;font-size:7.8px;color:#222;-webkit-text-stroke:0;">QED: 0.45 SA: 0.84</div>
</body></html>
